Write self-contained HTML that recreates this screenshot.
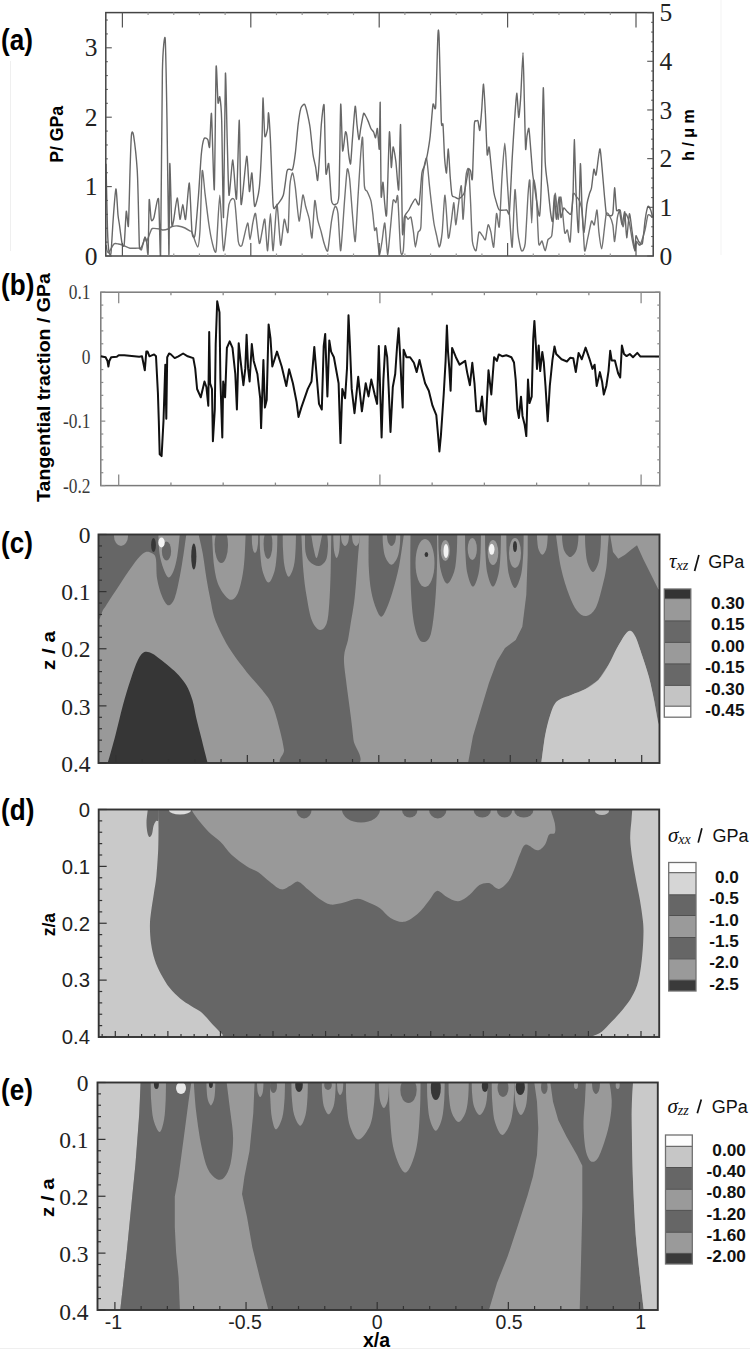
<!DOCTYPE html>
<html><head><meta charset="utf-8"><style>
html,body{margin:0;padding:0;background:#fff;}
body{width:750px;height:1349px;overflow:hidden;}
svg{display:block;}
</style></head><body>
<svg width="750" height="1349" viewBox="0 0 750 1349">
<clipPath id="clipc"><rect x="98.5" y="534.5" width="561.0" height="228.5"/></clipPath>
<g clip-path="url(#clipc)">
<rect x="98.5" y="534.5" width="561.0" height="228.5" fill="#999999" stroke="none" stroke-width="0"/>
<path d="M97.0,532.0 C97.0,545.9 95.9,602.6 97.0,615.4 C98.1,628.2 101.4,611.7 103.6,609.0 C105.8,606.3 107.4,603.2 110.2,599.0 C113.0,594.8 116.9,588.8 120.3,583.7 C123.7,578.6 127.3,572.9 130.5,568.5 C133.7,564.1 136.8,559.9 139.3,557.1 C141.8,554.4 143.6,552.6 145.7,552.0 C147.8,551.4 150.3,552.2 152.0,553.3 C153.7,554.4 155.0,554.2 155.8,558.4 C156.7,562.6 156.1,572.4 157.1,578.7 C158.1,585.0 160.2,592.0 162.1,596.4 C164.0,600.8 166.4,605.1 168.5,605.3 C170.6,605.5 172.9,602.6 174.8,597.7 C176.7,592.8 178.4,583.5 179.9,576.1 C181.4,568.7 182.6,560.0 183.7,553.3 C184.8,546.5 185.6,539.1 186.2,535.6 C186.8,532.1 186.9,532.6 187.0,532.0 Z" fill="#666666" stroke="none" stroke-width="0"/>
<path d="M158.3,533.0 C158.5,536.4 158.7,547.4 159.5,553.3 C160.3,559.2 161.9,564.5 163.4,568.5 C164.9,572.5 166.8,577.0 168.5,577.4 C170.2,577.8 172.0,574.6 173.5,571.0 C175.0,567.4 176.2,562.2 177.3,555.9 C178.4,549.6 179.5,536.8 179.9,533.0 Z" fill="#999999" stroke="none" stroke-width="0"/>
<ellipse cx="166.5" cy="551" rx="4.6" ry="9.5" fill="#666666"/>
<ellipse cx="161.5" cy="542.5" rx="3.2" ry="5" fill="#f4f4f4"/>
<ellipse cx="121" cy="536" rx="7" ry="10" fill="#999999"/>
<ellipse cx="153.5" cy="545" rx="2.4" ry="7" fill="#363636"/>
<ellipse cx="193.8" cy="556.5" rx="2.6" ry="13" fill="#363636"/>
<path d="M106.0,766.0 C106.3,765.5 106.2,768.0 107.7,763.0 C109.2,758.0 112.8,745.4 115.3,735.8 C117.8,726.2 120.4,714.6 122.9,705.3 C125.4,696.0 128.0,687.6 130.5,680.0 C133.0,672.4 135.7,664.4 138.0,659.7 C140.3,655.1 142.1,653.2 144.4,652.1 C146.7,651.0 149.2,652.1 152.0,653.4 C154.8,654.7 156.9,656.5 160.9,659.7 C164.9,662.9 171.8,668.2 176.0,672.4 C180.2,676.6 183.4,680.4 186.2,685.0 C188.9,689.6 190.8,694.8 192.5,700.3 C194.2,705.8 194.8,711.7 196.3,718.0 C197.8,724.3 199.5,730.8 201.4,738.3 C203.3,745.8 206.4,758.4 207.7,763.0 C209.0,767.6 208.8,765.5 209.0,766.0 Z" fill="#363636" stroke="none" stroke-width="0"/>
<path d="M198.9,532.0 C198.9,532.6 198.3,532.1 198.9,535.6 C199.5,539.1 201.4,546.1 202.7,553.3 C204.0,560.5 205.2,571.1 206.5,578.7 C207.8,586.3 209.0,592.7 210.3,599.0 C211.6,605.3 212.2,610.8 214.1,616.7 C216.0,622.6 218.8,628.5 221.7,634.4 C224.6,640.3 227.6,645.8 231.8,652.1 C236.0,658.4 241.9,666.1 247.0,672.4 C252.1,678.7 258.0,684.6 262.2,690.1 C266.4,695.6 269.3,698.5 272.3,705.3 C275.3,712.1 278.1,723.2 280.0,730.7 C281.9,738.2 283.2,744.3 284.0,750.0 C284.8,755.7 273.0,762.5 285.0,765.0 C297.0,767.5 344.6,769.2 356.0,765.0 C367.4,760.8 354.3,747.8 353.5,740.0 C352.7,732.2 352.2,728.0 351.0,718.0 C349.8,708.0 347.2,690.2 346.0,680.0 C344.8,669.8 343.7,663.7 344.0,657.0 C344.3,650.3 346.9,645.6 348.0,640.0 C349.1,634.4 349.7,629.4 350.7,623.3 C351.7,617.2 353.1,610.0 354.0,603.3 C354.9,596.6 355.3,591.1 356.0,583.3 C356.7,575.5 357.3,564.6 358.0,556.7 C358.7,548.8 359.5,540.1 360.0,536.0 C360.5,531.9 360.8,532.7 361.0,532.0 Z" fill="#666666" stroke="none" stroke-width="0"/>
<path d="M212.0,533.0 C212.3,538.5 212.9,557.1 214.1,566.0 C215.3,574.9 216.6,580.7 219.1,586.3 C221.6,591.9 226.3,597.9 229.3,599.4 C232.3,600.9 234.8,598.5 236.9,595.1 C239.0,591.7 240.6,584.8 241.9,578.7 C243.2,572.6 243.9,566.0 244.5,558.4 C245.1,550.8 245.5,537.2 245.7,533.0 Z" fill="#999999" stroke="none" stroke-width="0"/>
<ellipse cx="221.3" cy="545" rx="6.7" ry="18" fill="#666666"/>
<ellipse cx="255" cy="538" rx="3.2" ry="15" fill="#999999"/>
<path d="M259.7,533.0 C259.8,536.0 259.7,544.7 260.1,551.0 C260.6,557.2 261.0,565.1 262.4,570.4 C263.8,575.6 266.5,582.5 268.5,582.5 C270.6,582.5 273.3,575.6 274.7,570.4 C276.1,565.1 276.5,557.2 277.0,551.0 C277.4,544.7 277.3,536.0 277.4,533.0 Z" fill="#999999" stroke="none" stroke-width="0"/>
<ellipse cx="268" cy="544" rx="4.4" ry="15" fill="#666666"/>
<path d="M282.7,533.0 C282.8,535.7 282.7,543.4 283.0,548.9 C283.3,554.4 283.6,561.4 284.5,566.0 C285.4,570.7 287.1,576.7 288.7,576.7 C290.3,576.7 292.7,570.7 293.8,566.0 C295.0,561.4 295.3,554.4 295.6,548.9 C296.0,543.4 295.9,535.7 296.0,533.0 Z" fill="#999999" stroke="none" stroke-width="0"/>
<path d="M301.3,533.0 C301.6,539.2 302.4,559.4 303.3,570.0 C304.2,580.6 305.2,588.2 306.7,596.7 C308.1,605.2 309.8,615.2 312.0,620.7 C314.2,626.2 317.6,629.6 320.0,630.0 C322.4,630.4 325.1,627.8 326.7,623.3 C328.2,618.8 328.6,612.2 329.3,603.3 C330.0,594.4 330.4,581.7 330.7,570.0 C331.0,558.3 331.2,539.2 331.3,533.0 Z" fill="#999999" stroke="none" stroke-width="0"/>
<path d="M305.0,533.0 C305.1,536.2 304.7,547.2 305.5,552.0 C306.3,556.8 307.8,559.7 310.0,562.0 C312.2,564.3 316.3,566.3 319.0,566.0 C321.7,565.7 324.5,563.3 326.0,560.0 C327.5,556.7 327.8,550.5 328.0,546.0 C328.2,541.5 327.2,535.2 327.0,533.0 Z" fill="#666666" stroke="none" stroke-width="0"/>
<path d="M311.0,533.0 C311.4,535.5 312.6,543.8 313.5,548.0 C314.4,552.2 315.5,558.0 316.5,558.0 C317.5,558.0 318.5,552.2 319.5,548.0 C320.5,543.8 322.0,535.5 322.5,533.0 Z" fill="#999999" stroke="none" stroke-width="0"/>
<path d="M333.3,533.0 C333.3,534.6 333.3,539.2 333.5,542.4 C333.6,545.6 333.8,549.4 334.3,552.0 C334.8,554.6 335.9,558.0 336.6,558.0 C337.4,558.0 338.5,554.6 339.0,552.0 C339.5,549.4 339.7,545.6 339.8,542.4 C340.0,539.2 340.0,534.6 340.0,533.0 Z" fill="#999999" stroke="none" stroke-width="0"/>
<path d="M341.0,533.0 C341.0,533.9 341.0,536.5 341.2,538.2 C341.4,539.9 341.6,541.7 342.2,543.0 C342.8,544.3 344.1,546.0 345.0,546.0 C345.9,546.0 347.2,544.3 347.8,543.0 C348.4,541.7 348.6,539.9 348.8,538.2 C349.0,536.5 349.0,533.9 349.0,533.0 Z" fill="#999999" stroke="none" stroke-width="0"/>
<path d="M352.0,533.0 C352.0,533.9 352.0,536.5 352.2,538.2 C352.4,539.9 352.6,541.7 353.2,543.0 C353.8,544.3 355.1,546.0 356.0,546.0 C356.9,546.0 358.2,544.3 358.8,543.0 C359.4,541.7 359.6,539.9 359.8,538.2 C360.0,536.5 360.0,533.9 360.0,533.0 Z" fill="#999999" stroke="none" stroke-width="0"/>
<path d="M368.7,533.0 C368.7,538.5 368.3,556.3 368.7,566.0 C369.1,575.7 369.9,584.1 371.2,591.3 C372.5,598.5 374.6,604.8 376.3,609.0 C378.0,613.2 379.6,616.7 381.3,616.7 C383.0,616.7 384.5,613.2 386.4,609.0 C388.3,604.8 390.6,598.5 392.7,591.3 C394.8,584.1 397.2,575.7 399.1,566.0 C401.0,556.3 403.3,538.5 404.1,533.0 Z" fill="#666666" stroke="none" stroke-width="0"/>
<path d="M382.6,533.0 C382.7,535.0 382.6,540.7 383.0,544.7 C383.5,548.7 383.9,553.7 385.3,557.0 C386.7,560.4 389.4,564.7 391.5,564.7 C393.5,564.7 396.2,560.4 397.6,557.0 C399.0,553.7 399.4,548.7 399.9,544.7 C400.3,540.7 400.2,535.0 400.3,533.0 Z" fill="#999999" stroke="none" stroke-width="0"/>
<path d="M387.0,533.0 C387.0,533.9 387.0,536.5 387.2,538.2 C387.5,539.9 387.6,541.7 388.4,543.0 C389.1,544.3 390.4,546.0 391.5,546.0 C392.6,546.0 393.9,544.3 394.6,543.0 C395.4,541.7 395.5,539.9 395.8,538.2 C396.0,536.5 396.0,533.9 396.0,533.0 Z" fill="#666666" stroke="none" stroke-width="0"/>
<path d="M410.5,533.0 C410.5,540.6 410.1,564.8 410.5,578.7 C410.9,592.7 411.8,607.0 413.0,616.7 C414.2,626.4 416.2,632.8 418.0,637.0 C419.8,641.2 421.8,642.4 423.9,642.0 C426.0,641.6 428.8,640.7 430.7,634.4 C432.6,628.1 433.9,615.4 435.0,604.0 C436.1,592.6 436.7,577.8 437.0,566.0 C437.3,554.2 437.0,538.5 437.0,533.0 Z" fill="#666666" stroke="none" stroke-width="0"/>
<ellipse cx="425" cy="563" rx="9.5" ry="24" fill="#999999"/>
<ellipse cx="426.4" cy="554.6" rx="1.8" ry="2.5" fill="#363636"/>
<path d="M438.3,533.0 C438.4,536.1 438.3,545.0 438.7,551.4 C439.2,557.8 439.6,565.9 441.0,571.3 C442.4,576.7 445.0,583.7 447.2,583.7 C449.4,583.7 452.7,576.7 454.3,571.3 C455.9,565.9 456.3,557.8 456.8,551.4 C457.3,545.0 457.2,536.1 457.3,533.0 Z" fill="#666666" stroke="none" stroke-width="0"/>
<ellipse cx="445.3" cy="550.5" rx="4.5" ry="10.5" fill="#999999"/>
<ellipse cx="446" cy="551" rx="2.5" ry="7" fill="#f4f4f4"/>
<path d="M465.0,533.0 C465.1,536.2 465.0,545.7 465.4,552.4 C465.8,559.2 466.1,567.8 467.4,573.5 C468.7,579.2 471.1,586.7 473.0,586.7 C474.9,586.7 477.3,579.2 478.6,573.5 C479.9,567.8 480.2,559.2 480.6,552.4 C481.0,545.7 480.9,536.2 481.0,533.0 Z" fill="#666666" stroke="none" stroke-width="0"/>
<ellipse cx="472.3" cy="549" rx="4.6" ry="11" fill="#999999"/>
<path d="M485.0,533.0 C485.1,536.2 485.0,545.7 485.4,552.4 C485.8,559.2 486.1,567.8 487.4,573.5 C488.7,579.2 491.1,586.7 493.0,586.7 C494.9,586.7 497.3,579.2 498.6,573.5 C499.9,567.8 500.2,559.2 500.6,552.4 C501.0,545.7 500.9,536.2 501.0,533.0 Z" fill="#666666" stroke="none" stroke-width="0"/>
<ellipse cx="493" cy="552.5" rx="5.3" ry="12.5" fill="#999999"/>
<ellipse cx="491.7" cy="549.3" rx="2.8" ry="5.5" fill="#f4f4f4"/>
<path d="M506.3,533.0 C506.4,536.3 506.3,546.0 506.7,552.9 C507.2,559.8 507.5,568.6 508.9,574.5 C510.3,580.4 513.0,588.0 515.0,588.0 C517.0,588.0 519.7,580.4 521.1,574.5 C522.5,568.6 522.8,559.8 523.3,552.9 C523.7,546.0 523.6,536.3 523.7,533.0 Z" fill="#666666" stroke="none" stroke-width="0"/>
<ellipse cx="515" cy="553" rx="6" ry="15" fill="#999999"/>
<ellipse cx="515" cy="546.5" rx="2" ry="5.5" fill="#363636"/>
<path d="M527.7,532.0 L527.7,554.7 L526.3,594.7 L522.3,626.7 L515.7,640.0 L505.0,648.0 L497.0,661.3 L489.0,682.7 L481.0,709.3 L473.0,736.0 L467.7,765.0 L541.0,765.0 L545.0,736.0 L550.3,714.7 L557.0,701.3 L571.7,694.7 L585.0,689.3 L598.3,680.0 L609.0,664.0 L617.0,648.0 L625.0,634.7 L630.3,630.7 L635.7,637.3 L642.3,656.0 L649.0,677.3 L654.3,701.3 L658.3,722.7 L662.0,730.0 L662.0,589.0 L658.3,589.3 L651.7,576.0 L643.7,560.0 L637.0,545.3 L631.7,549.3 L625.0,554.7 L618.3,558.7 L613.0,552.0 L610.3,536.0 L610.0,532.0 Z" fill="#666666" stroke="none" stroke-width="0"/>
<path d="M541.0,765.0 C541.7,760.2 543.5,744.4 545.0,736.0 C546.5,727.6 548.3,720.5 550.3,714.7 C552.3,708.9 553.4,704.6 557.0,701.3 C560.6,698.0 567.0,696.7 571.7,694.7 C576.4,692.7 580.6,691.8 585.0,689.3 C589.4,686.8 594.3,684.2 598.3,680.0 C602.3,675.8 605.9,669.3 609.0,664.0 C612.1,658.7 614.3,652.9 617.0,648.0 C619.7,643.1 622.8,637.6 625.0,634.7 C627.2,631.8 628.5,630.3 630.3,630.7 C632.1,631.1 633.7,633.1 635.7,637.3 C637.7,641.5 640.1,649.3 642.3,656.0 C644.5,662.7 647.0,669.8 649.0,677.3 C651.0,684.8 652.8,693.7 654.3,701.3 C655.8,708.9 657.0,717.9 658.3,722.7 C659.6,727.5 661.4,723.0 662.0,730.0 C662.6,737.0 662.0,759.2 662.0,765.0 Z" fill="#c9c9c9" stroke="none" stroke-width="0"/>
<path d="M555.7,533.0 C556.6,538.8 558.8,557.7 561.0,568.0 C563.2,578.3 566.3,587.6 569.0,594.7 C571.7,601.8 574.1,607.2 577.0,610.7 C579.9,614.2 583.2,616.5 586.3,616.0 C589.4,615.5 593.0,612.9 595.7,608.0 C598.4,603.1 600.5,593.4 602.3,586.7 C604.1,580.0 605.4,574.2 606.3,568.0 C607.2,561.8 607.2,555.1 607.7,549.3 C608.2,543.5 608.8,535.7 609.0,533.0 Z" fill="#999999" stroke="none" stroke-width="0"/>
<path d="M585.0,533.0 C585.1,535.4 585.0,542.4 585.4,547.3 C585.8,552.2 586.1,558.4 587.4,562.5 C588.7,566.6 591.1,572.0 593.0,572.0 C594.9,572.0 597.3,566.6 598.6,562.5 C599.9,558.4 600.2,552.2 600.6,547.3 C601.0,542.4 600.9,535.4 601.0,533.0 Z" fill="#666666" stroke="none" stroke-width="0"/>
<path d="M562.0,533.0 C562.1,534.5 562.0,539.0 562.4,542.0 C562.8,545.1 563.2,548.8 564.5,551.2 C565.8,553.7 568.3,557.0 570.2,557.0 C572.2,557.0 574.7,553.7 576.0,551.2 C577.3,548.8 577.7,545.1 578.1,542.0 C578.5,539.0 578.4,534.5 578.5,533.0 Z" fill="#666666" stroke="none" stroke-width="0"/>
<path d="M537.0,533.0 C537.0,534.4 537.0,538.5 537.3,541.2 C537.5,544.0 537.8,547.3 538.6,549.5 C539.5,551.8 541.1,554.7 542.4,554.7 C543.6,554.7 545.2,551.8 546.1,549.5 C546.9,547.3 547.2,544.0 547.4,541.2 C547.7,538.5 547.7,534.4 547.7,533.0 Z" fill="#999999" stroke="none" stroke-width="0"/>
</g>
<rect x="98.5" y="534.5" width="561.0" height="228.5" fill="none" stroke="#333" stroke-width="1.9"/>
<clipPath id="clipd"><rect x="98.7" y="809.5" width="560.5" height="227.5"/></clipPath>
<g clip-path="url(#clipd)">
<rect x="98.7" y="809.5" width="560.5" height="227.5" fill="#c9c9c9" stroke="none" stroke-width="0"/>
<path d="M158.2,805.0 C158.2,806.7 158.2,811.2 158.3,815.0 C158.4,818.8 158.5,822.3 158.5,828.0 C158.5,833.7 158.5,841.4 158.2,849.4 C157.8,857.4 157.1,868.7 156.4,876.1 C155.7,883.5 154.7,888.0 153.8,893.9 C152.9,899.8 151.8,906.4 151.1,911.7 C150.4,917.0 149.9,920.6 149.9,925.9 C149.9,931.2 150.3,938.1 151.1,943.7 C151.9,949.3 153.1,954.7 154.7,959.7 C156.3,964.7 158.4,969.2 160.9,973.9 C163.4,978.6 166.6,984.0 169.8,988.1 C173.1,992.2 176.9,995.8 180.4,998.8 C183.9,1001.8 187.8,1003.8 191.1,1005.9 C194.4,1008.0 197.3,1009.2 200.0,1011.2 C202.7,1013.2 204.7,1015.5 207.0,1018.0 C209.3,1020.5 211.4,1023.3 214.1,1026.1 C216.8,1028.9 220.7,1032.7 223.0,1035.0 C225.3,1037.3 167.2,1039.2 228.0,1040.0 C288.8,1040.8 527.4,1040.5 588.0,1040.0 C648.6,1039.5 589.2,1038.2 591.5,1036.8 C593.8,1035.4 598.3,1034.2 601.7,1031.7 C605.1,1029.2 608.2,1025.4 611.8,1021.6 C615.4,1017.8 619.8,1013.2 623.2,1009.0 C626.6,1004.8 629.6,1001.0 632.1,996.3 C634.6,991.6 636.7,987.8 638.4,981.0 C640.1,974.2 641.4,964.1 642.2,955.7 C643.1,947.3 643.5,937.1 643.5,930.4 C643.5,923.6 642.8,920.3 642.2,915.2 C641.6,910.1 640.9,905.9 639.9,900.0 C638.9,894.1 637.2,886.7 636.0,880.0 C634.8,873.3 633.5,866.9 632.5,860.0 C631.5,853.1 630.4,845.4 630.2,838.7 C630.0,832.0 631.2,824.6 631.5,820.0 C631.8,815.4 632.0,813.3 632.2,810.8 C632.4,808.3 632.5,806.0 632.5,805.0 Z" fill="#666666" stroke="none" stroke-width="0"/>
<path d="M148.0,808.0 C147.8,810.3 146.6,817.8 146.5,822.0 C146.4,826.2 147.0,830.5 147.5,833.0 C148.0,835.5 148.8,836.8 149.5,837.0 C150.2,837.2 151.3,835.8 152.0,834.0 C152.7,832.2 152.8,828.2 153.5,826.0 C154.2,823.8 155.2,822.0 156.0,821.0 C156.8,820.0 158.1,822.2 158.5,820.0 C158.9,817.8 158.5,810.0 158.5,808.0 Z" fill="#666666" stroke="none" stroke-width="0"/>
<ellipse cx="180" cy="810.5" rx="11" ry="4" fill="#dcdcdc"/>
<path d="M191.9,808.0 C191.9,808.4 191.0,808.8 191.9,810.6 C192.8,812.4 194.8,815.4 197.6,819.0 C200.4,822.6 205.2,828.5 209.0,832.3 C212.8,836.1 216.6,838.0 220.4,841.8 C224.2,845.6 227.4,850.9 231.8,855.0 C236.2,859.1 242.6,863.6 247.0,866.5 C251.4,869.4 254.6,869.7 258.4,872.2 C262.2,874.7 266.0,878.9 269.8,881.7 C273.6,884.6 277.7,888.7 281.2,889.3 C284.7,889.9 287.8,886.8 290.7,885.5 C293.6,884.2 295.4,881.1 298.3,881.7 C301.2,882.3 304.3,886.4 307.8,889.3 C311.3,892.1 315.4,896.3 319.2,898.8 C323.0,901.3 326.5,903.9 330.6,904.5 C334.7,905.1 339.5,903.6 343.9,902.6 C348.3,901.6 353.1,898.8 357.2,898.8 C361.3,898.8 364.8,901.0 368.6,902.6 C372.4,904.2 376.4,905.8 380.0,908.3 C383.6,910.8 386.5,915.6 390.5,917.9 C394.5,920.1 399.5,922.4 404.0,921.8 C408.5,921.1 413.3,917.5 417.5,914.0 C421.7,910.5 425.9,904.4 429.1,900.5 C432.3,896.6 434.0,891.5 436.9,890.9 C439.8,890.3 443.0,895.0 446.5,896.7 C450.0,898.4 454.2,901.6 458.1,901.3 C462.0,901.0 466.1,897.4 469.7,894.7 C473.2,892.0 476.2,887.0 479.4,885.1 C482.6,883.2 485.9,882.5 489.1,883.1 C492.3,883.7 495.5,889.2 498.7,888.9 C501.9,888.6 505.8,884.4 508.4,881.2 C511.0,878.0 512.3,874.1 514.2,869.6 C516.1,865.1 518.1,858.3 520.0,854.1 C521.9,849.9 522.9,845.1 525.8,844.5 C528.7,843.9 534.2,850.3 537.4,850.3 C540.6,850.3 543.2,847.1 545.1,844.5 C547.0,841.9 547.4,836.7 549.0,834.8 C550.6,832.9 553.8,834.8 554.8,832.9 C555.8,831.0 555.4,826.9 554.8,823.2 C554.2,819.5 551.6,813.3 551.0,810.8 C550.4,808.3 551.0,808.5 551.0,808.0 Z" fill="#999999" stroke="none" stroke-width="0"/>
<ellipse cx="304.0" cy="809.5" rx="7.600000000000023" ry="9" fill="#666666"/>
<ellipse cx="361.0" cy="809.5" rx="19.0" ry="13" fill="#666666"/>
<ellipse cx="409.75" cy="809.5" rx="7.75" ry="8" fill="#666666"/>
<ellipse cx="437.75" cy="809.5" rx="8.75" ry="9" fill="#666666"/>
<ellipse cx="482.3" cy="809.5" rx="8.699999999999989" ry="8" fill="#666666"/>
<ellipse cx="504.54999999999995" cy="809.5" rx="7.749999999999972" ry="8" fill="#666666"/>
<ellipse cx="523.75" cy="809.5" rx="9.75" ry="8" fill="#666666"/>
<ellipse cx="602" cy="811" rx="7" ry="4" fill="#b8b8b8"/>
</g>
<rect x="98.7" y="809.5" width="560.5" height="227.5" fill="none" stroke="#333" stroke-width="1.9"/>
<clipPath id="clipe"><rect x="97.5" y="1082.5" width="560.3" height="227.5"/></clipPath>
<g clip-path="url(#clipe)">
<rect x="97.5" y="1082.5" width="560.3" height="227.5" fill="#999999" stroke="none" stroke-width="0"/>
<path d="M96.0,1080.0 C103.4,1080.0 133.2,1079.6 140.6,1080.0 C148.0,1080.4 140.8,1077.1 140.6,1082.6 C140.4,1088.1 140.2,1099.5 139.3,1113.0 C138.5,1126.5 136.8,1148.9 135.5,1163.7 C134.2,1178.5 133.2,1186.9 131.7,1201.7 C130.2,1216.5 128.6,1234.3 126.7,1252.3 C124.8,1270.2 121.5,1299.3 120.3,1309.4 C119.1,1319.5 123.8,1312.4 119.8,1313.0 C115.8,1313.6 100.0,1313.0 96.0,1313.0 Z" fill="#c9c9c9" stroke="none" stroke-width="0"/>
<path d="M140.6,1080.0 L140.6,1082.6 L139.3,1113.0 L135.5,1163.7 L131.7,1201.7 L126.7,1252.3 L120.3,1309.4 L119.8,1313.0 L180.0,1313.0 L179.9,1309.4 L178.6,1277.7 L176.1,1252.3 L174.8,1227.0 L174.8,1196.6 L178.6,1176.3 L183.7,1138.3 L188.7,1100.3 L191.3,1082.6 L191.5,1080.0 Z" fill="#666666" stroke="none" stroke-width="0"/>
<path d="M150.7,1081.0 C150.8,1084.1 150.7,1093.1 151.1,1099.5 C151.6,1105.9 152.0,1114.1 153.4,1119.5 C154.8,1124.9 157.8,1132.0 159.6,1132.0 C161.4,1132.0 163.1,1124.9 164.1,1119.5 C165.1,1114.1 165.4,1105.9 165.7,1099.5 C166.0,1093.1 165.9,1084.1 166.0,1081.0 Z" fill="#999999" stroke="none" stroke-width="0"/>
<ellipse cx="156.4" cy="1084" rx="2.5" ry="5" fill="#363636"/>
<ellipse cx="181" cy="1088" rx="5" ry="6" fill="#e8e8e8"/>
<path d="M193.8,1080.0 C193.8,1080.4 193.4,1077.1 193.8,1082.6 C194.2,1088.1 195.0,1102.4 196.3,1113.0 C197.6,1123.6 199.5,1136.7 201.4,1146.0 C203.3,1155.3 205.2,1163.2 207.7,1168.7 C210.2,1174.2 213.8,1177.4 216.6,1178.9 C219.3,1180.4 221.9,1180.1 224.2,1177.6 C226.5,1175.1 229.0,1170.2 230.5,1163.7 C232.0,1157.2 233.1,1146.8 233.1,1138.3 C233.1,1129.8 231.6,1122.3 230.5,1113.0 C229.4,1103.7 227.3,1088.1 226.7,1082.6 C226.1,1077.1 226.7,1080.4 226.7,1080.0 Z" fill="#666666" stroke="none" stroke-width="0"/>
<path d="M206.5,1081.0 C206.5,1082.5 206.5,1087.1 206.7,1090.2 C206.9,1093.3 207.1,1097.0 207.8,1099.6 C208.5,1102.1 209.9,1105.4 210.9,1105.4 C211.9,1105.4 213.3,1102.1 214.0,1099.6 C214.7,1097.0 214.9,1093.3 215.1,1090.2 C215.3,1087.1 215.3,1082.5 215.3,1081.0 Z" fill="#999999" stroke="none" stroke-width="0"/>
<ellipse cx="210.9" cy="1084" rx="2" ry="4" fill="#363636"/>
<path d="M254.6,1080.0 L254.6,1082.6 L253.3,1113.0 L249.5,1151.0 L244.5,1176.3 L242.0,1194.0 L247.0,1216.9 L252.3,1247.3 L259.8,1277.7 L268.3,1309.4 L269.0,1313.0 L489.0,1313.0 L489.0,1309.7 L497.0,1283.0 L507.7,1256.3 L518.3,1224.3 L527.7,1195.0 L533.0,1176.3 L537.0,1155.0 L538.3,1128.3 L537.0,1101.7 L534.3,1082.5 L534.3,1080.0 Z" fill="#666666" stroke="none" stroke-width="0"/>
<path d="M257.0,1081.0 C257.0,1082.0 257.0,1085.2 257.2,1087.2 C257.3,1089.3 257.5,1091.6 258.0,1093.2 C258.5,1094.9 259.5,1097.0 260.2,1097.0 C261.0,1097.0 262.0,1094.9 262.5,1093.2 C263.0,1091.6 263.2,1089.3 263.3,1087.2 C263.5,1085.2 263.5,1082.0 263.5,1081.0 Z" fill="#999999" stroke="none" stroke-width="0"/>
<path d="M270.0,1081.0 C270.1,1083.9 270.0,1092.5 270.3,1098.6 C270.6,1104.7 270.9,1112.5 271.8,1117.6 C272.8,1122.8 274.2,1129.5 276.0,1129.5 C277.8,1129.5 280.9,1122.8 282.3,1117.6 C283.7,1112.5 284.1,1104.7 284.6,1098.6 C285.0,1092.5 284.9,1083.9 285.0,1081.0 Z" fill="#999999" stroke="none" stroke-width="0"/>
<path d="M291.4,1081.0 C291.5,1083.7 291.4,1091.7 291.8,1097.3 C292.3,1102.9 292.7,1110.0 294.1,1114.8 C295.5,1119.5 298.4,1125.7 300.3,1125.7 C302.2,1125.7 304.4,1119.5 305.6,1114.8 C306.8,1110.0 307.1,1102.9 307.5,1097.3 C307.9,1091.7 307.8,1083.7 307.9,1081.0 Z" fill="#999999" stroke="none" stroke-width="0"/>
<path d="M321.8,1081.0 C321.9,1083.1 321.8,1089.1 322.1,1093.3 C322.5,1097.5 322.8,1102.7 323.8,1106.2 C324.9,1109.7 327.0,1114.3 328.6,1114.3 C330.2,1114.3 332.4,1109.7 333.6,1106.2 C334.7,1102.7 335.0,1097.5 335.3,1093.3 C335.7,1089.1 335.6,1083.1 335.7,1081.0 Z" fill="#999999" stroke="none" stroke-width="0"/>
<path d="M337.0,1081.0 C337.0,1081.9 337.0,1084.8 337.2,1086.5 C337.3,1088.3 337.4,1090.3 337.9,1091.8 C338.4,1093.2 339.4,1095.0 340.1,1095.0 C340.9,1095.0 341.9,1093.2 342.4,1091.8 C342.9,1090.3 343.0,1088.3 343.1,1086.5 C343.3,1084.8 343.3,1081.9 343.3,1081.0 Z" fill="#999999" stroke="none" stroke-width="0"/>
<path d="M345.9,1081.0 C346.0,1084.5 345.9,1094.8 346.5,1102.2 C347.2,1109.5 347.7,1119.0 349.7,1125.2 C351.7,1131.4 355.1,1139.6 358.5,1139.6 C361.9,1139.6 367.4,1131.4 370.1,1125.2 C372.7,1119.0 373.4,1109.5 374.2,1102.2 C375.0,1094.8 374.9,1084.5 375.0,1081.0 Z" fill="#999999" stroke="none" stroke-width="0"/>
<path d="M378.8,1081.0 C378.8,1082.7 378.8,1087.7 379.1,1091.1 C379.3,1094.5 379.5,1098.7 380.3,1101.5 C381.1,1104.3 382.7,1108.0 383.9,1108.0 C385.1,1108.0 386.7,1104.3 387.5,1101.5 C388.3,1098.7 388.5,1094.5 388.7,1091.1 C389.0,1087.7 389.0,1082.7 389.0,1081.0 Z" fill="#999999" stroke="none" stroke-width="0"/>
<path d="M389.0,1081.0 C389.1,1086.4 389.0,1102.2 389.8,1113.7 C390.6,1125.2 391.3,1140.1 393.9,1149.9 C396.5,1159.7 401.7,1172.5 405.4,1172.5 C409.1,1172.5 413.6,1159.7 416.0,1149.9 C418.4,1140.1 419.1,1125.2 419.8,1113.7 C420.6,1102.2 420.5,1086.4 420.6,1081.0 Z" fill="#999999" stroke="none" stroke-width="0"/>
<path d="M427.0,1081.0 C427.1,1084.0 427.0,1092.8 427.4,1099.0 C427.9,1105.3 428.2,1113.2 429.6,1118.5 C431.0,1123.8 433.7,1130.7 435.8,1130.7 C437.9,1130.7 440.6,1123.8 442.0,1118.5 C443.4,1113.2 443.8,1105.3 444.3,1099.0 C444.7,1092.8 444.6,1084.0 444.7,1081.0 Z" fill="#999999" stroke="none" stroke-width="0"/>
<path d="M448.5,1081.0 C448.6,1083.5 448.5,1090.8 449.0,1096.0 C449.5,1101.1 449.9,1107.6 451.5,1111.9 C453.1,1116.2 456.2,1121.9 458.6,1121.9 C461.0,1121.9 464.1,1116.2 465.7,1111.9 C467.4,1107.6 467.8,1101.1 468.3,1096.0 C468.8,1090.8 468.7,1083.5 468.8,1081.0 Z" fill="#999999" stroke="none" stroke-width="0"/>
<path d="M471.7,1081.0 C471.8,1083.1 471.7,1089.3 472.1,1093.5 C472.5,1097.8 472.8,1103.2 474.1,1106.8 C475.4,1110.3 477.8,1115.0 479.7,1115.0 C481.6,1115.0 484.0,1110.3 485.3,1106.8 C486.6,1103.2 486.9,1097.8 487.3,1093.5 C487.7,1089.3 487.6,1083.1 487.7,1081.0 Z" fill="#999999" stroke="none" stroke-width="0"/>
<path d="M491.7,1081.0 C491.8,1084.3 491.7,1093.8 492.2,1100.5 C492.8,1107.3 493.2,1116.0 494.9,1121.8 C496.6,1127.5 499.7,1135.0 502.3,1135.0 C504.9,1135.0 508.8,1127.5 510.7,1121.8 C512.6,1116.0 513.1,1107.3 513.7,1100.5 C514.3,1093.8 514.2,1084.3 514.3,1081.0 Z" fill="#999999" stroke="none" stroke-width="0"/>
<path d="M514.3,1081.0 C514.4,1083.1 514.3,1089.3 514.6,1093.5 C515.0,1097.8 515.2,1103.2 516.3,1106.8 C517.4,1110.3 519.4,1115.0 521.0,1115.0 C522.6,1115.0 524.6,1110.3 525.7,1106.8 C526.8,1103.2 527.0,1097.8 527.4,1093.5 C527.7,1089.3 527.6,1083.1 527.7,1081.0 Z" fill="#999999" stroke="none" stroke-width="0"/>
<ellipse cx="273.5" cy="1086" rx="3.5" ry="7" fill="#666666"/>
<ellipse cx="299" cy="1085" rx="3.8" ry="7" fill="#363636"/>
<ellipse cx="328" cy="1085" rx="3.8" ry="5" fill="#666666"/>
<ellipse cx="408.5" cy="1090" rx="8.2" ry="13" fill="#666666"/>
<ellipse cx="435.8" cy="1088" rx="5" ry="12" fill="#363636"/>
<ellipse cx="485" cy="1086" rx="3.2" ry="6" fill="#363636"/>
<ellipse cx="503" cy="1088" rx="5.5" ry="9" fill="#666666"/>
<ellipse cx="520.3" cy="1087" rx="4.6" ry="8" fill="#363636"/>
<path d="M550.3,1080.0 L550.3,1082.5 L553.0,1101.7 L558.3,1120.3 L566.3,1136.3 L577.0,1155.0 L582.3,1165.7 L582.3,1208.3 L581.0,1261.7 L579.7,1309.7 L579.7,1313.0 L644.0,1313.0 L643.7,1309.7 L639.7,1275.0 L635.7,1235.0 L633.0,1181.7 L631.7,1115.0 L633.0,1082.5 L633.0,1080.0 Z" fill="#666666" stroke="none" stroke-width="0"/>
<path d="M586.0,1080.0 C585.8,1083.3 585.4,1093.0 585.0,1100.0 C584.6,1107.0 583.6,1115.0 583.5,1122.0 C583.4,1129.0 583.9,1136.5 584.5,1142.0 C585.1,1147.5 585.8,1151.7 587.0,1155.0 C588.2,1158.3 589.9,1161.2 591.7,1161.7 C593.5,1162.2 595.8,1161.6 598.0,1158.0 C600.2,1154.4 603.0,1146.3 605.0,1140.0 C607.0,1133.7 608.9,1126.7 610.0,1120.0 C611.1,1113.3 611.9,1106.7 611.7,1100.0 C611.5,1093.3 609.5,1083.3 609.0,1080.0 Z" fill="#999999" stroke="none" stroke-width="0"/>
<path d="M592.0,1081.0 C592.0,1081.9 592.0,1084.5 592.2,1086.2 C592.4,1087.9 592.6,1089.7 593.2,1091.0 C593.8,1092.3 595.1,1094.0 596.0,1094.0 C596.9,1094.0 598.2,1092.3 598.8,1091.0 C599.4,1089.7 599.6,1087.9 599.8,1086.2 C600.0,1084.5 600.0,1081.9 600.0,1081.0 Z" fill="#666666" stroke="none" stroke-width="0"/>
<ellipse cx="576" cy="1085" rx="2" ry="4" fill="#999999"/>
<ellipse cx="617.7" cy="1085" rx="2" ry="4" fill="#999999"/>
<ellipse cx="544.3" cy="1087" rx="3.3" ry="7" fill="#666666"/>
<path d="M633.0,1080.0 C633.0,1080.4 633.2,1076.7 633.0,1082.5 C632.8,1088.3 631.7,1098.5 631.7,1115.0 C631.7,1131.5 632.3,1161.7 633.0,1181.7 C633.7,1201.7 634.6,1219.5 635.7,1235.0 C636.8,1250.5 638.4,1262.5 639.7,1275.0 C641.0,1287.5 643.0,1303.4 643.7,1309.7 C644.4,1316.0 641.3,1312.5 644.0,1313.0 C646.7,1313.5 657.3,1351.8 660.0,1313.0 C662.7,1274.2 660.0,1118.8 660.0,1080.0 Z" fill="#c9c9c9" stroke="none" stroke-width="0"/>
</g>
<rect x="97.5" y="1082.5" width="560.3" height="227.5" fill="none" stroke="#333" stroke-width="1.9"/>
<rect x="100.8" y="292.2" width="559.0" height="193.40000000000003" fill="none" stroke="#7a7a7a" stroke-width="1.5"/>
<line x1="118.69999999999999" y1="292.2" x2="118.69999999999999" y2="303.2" stroke="#8a8a8a" stroke-width="1.3"/>
<line x1="118.69999999999999" y1="485.6" x2="118.69999999999999" y2="474.6" stroke="#8a8a8a" stroke-width="1.3"/>
<line x1="170.93999999999997" y1="292.2" x2="170.93999999999997" y2="295.2" stroke="#8a8a8a" stroke-width="1.3"/>
<line x1="170.93999999999997" y1="485.6" x2="170.93999999999997" y2="482.6" stroke="#8a8a8a" stroke-width="1.3"/>
<line x1="223.17999999999995" y1="292.2" x2="223.17999999999995" y2="295.2" stroke="#8a8a8a" stroke-width="1.3"/>
<line x1="223.17999999999995" y1="485.6" x2="223.17999999999995" y2="482.6" stroke="#8a8a8a" stroke-width="1.3"/>
<line x1="275.41999999999996" y1="292.2" x2="275.41999999999996" y2="295.2" stroke="#8a8a8a" stroke-width="1.3"/>
<line x1="275.41999999999996" y1="485.6" x2="275.41999999999996" y2="482.6" stroke="#8a8a8a" stroke-width="1.3"/>
<line x1="327.65999999999997" y1="292.2" x2="327.65999999999997" y2="295.2" stroke="#8a8a8a" stroke-width="1.3"/>
<line x1="327.65999999999997" y1="485.6" x2="327.65999999999997" y2="482.6" stroke="#8a8a8a" stroke-width="1.3"/>
<line x1="379.9" y1="292.2" x2="379.9" y2="303.2" stroke="#8a8a8a" stroke-width="1.3"/>
<line x1="379.9" y1="485.6" x2="379.9" y2="474.6" stroke="#8a8a8a" stroke-width="1.3"/>
<line x1="432.14" y1="292.2" x2="432.14" y2="295.2" stroke="#8a8a8a" stroke-width="1.3"/>
<line x1="432.14" y1="485.6" x2="432.14" y2="482.6" stroke="#8a8a8a" stroke-width="1.3"/>
<line x1="484.38" y1="292.2" x2="484.38" y2="295.2" stroke="#8a8a8a" stroke-width="1.3"/>
<line x1="484.38" y1="485.6" x2="484.38" y2="482.6" stroke="#8a8a8a" stroke-width="1.3"/>
<line x1="536.62" y1="292.2" x2="536.62" y2="295.2" stroke="#8a8a8a" stroke-width="1.3"/>
<line x1="536.62" y1="485.6" x2="536.62" y2="482.6" stroke="#8a8a8a" stroke-width="1.3"/>
<line x1="588.86" y1="292.2" x2="588.86" y2="295.2" stroke="#8a8a8a" stroke-width="1.3"/>
<line x1="588.86" y1="485.6" x2="588.86" y2="482.6" stroke="#8a8a8a" stroke-width="1.3"/>
<line x1="641.0999999999999" y1="292.2" x2="641.0999999999999" y2="303.2" stroke="#8a8a8a" stroke-width="1.3"/>
<line x1="641.0999999999999" y1="485.6" x2="641.0999999999999" y2="474.6" stroke="#8a8a8a" stroke-width="1.3"/>
<line x1="100.8" y1="292.2" x2="105.3" y2="292.2" stroke="#8a8a8a" stroke-width="1.2"/>
<line x1="659.8" y1="292.2" x2="655.3" y2="292.2" stroke="#8a8a8a" stroke-width="1.2"/>
<line x1="100.8" y1="305.0933333333333" x2="103.3" y2="305.0933333333333" stroke="#8a8a8a" stroke-width="1.2"/>
<line x1="659.8" y1="305.0933333333333" x2="657.3" y2="305.0933333333333" stroke="#8a8a8a" stroke-width="1.2"/>
<line x1="100.8" y1="317.9866666666667" x2="103.3" y2="317.9866666666667" stroke="#8a8a8a" stroke-width="1.2"/>
<line x1="659.8" y1="317.9866666666667" x2="657.3" y2="317.9866666666667" stroke="#8a8a8a" stroke-width="1.2"/>
<line x1="100.8" y1="330.88" x2="103.3" y2="330.88" stroke="#8a8a8a" stroke-width="1.2"/>
<line x1="659.8" y1="330.88" x2="657.3" y2="330.88" stroke="#8a8a8a" stroke-width="1.2"/>
<line x1="100.8" y1="343.7733333333333" x2="103.3" y2="343.7733333333333" stroke="#8a8a8a" stroke-width="1.2"/>
<line x1="659.8" y1="343.7733333333333" x2="657.3" y2="343.7733333333333" stroke="#8a8a8a" stroke-width="1.2"/>
<line x1="100.8" y1="356.6666666666667" x2="105.3" y2="356.6666666666667" stroke="#8a8a8a" stroke-width="1.2"/>
<line x1="659.8" y1="356.6666666666667" x2="655.3" y2="356.6666666666667" stroke="#8a8a8a" stroke-width="1.2"/>
<line x1="100.8" y1="369.56" x2="103.3" y2="369.56" stroke="#8a8a8a" stroke-width="1.2"/>
<line x1="659.8" y1="369.56" x2="657.3" y2="369.56" stroke="#8a8a8a" stroke-width="1.2"/>
<line x1="100.8" y1="382.4533333333333" x2="103.3" y2="382.4533333333333" stroke="#8a8a8a" stroke-width="1.2"/>
<line x1="659.8" y1="382.4533333333333" x2="657.3" y2="382.4533333333333" stroke="#8a8a8a" stroke-width="1.2"/>
<line x1="100.8" y1="395.3466666666667" x2="103.3" y2="395.3466666666667" stroke="#8a8a8a" stroke-width="1.2"/>
<line x1="659.8" y1="395.3466666666667" x2="657.3" y2="395.3466666666667" stroke="#8a8a8a" stroke-width="1.2"/>
<line x1="100.8" y1="408.24" x2="103.3" y2="408.24" stroke="#8a8a8a" stroke-width="1.2"/>
<line x1="659.8" y1="408.24" x2="657.3" y2="408.24" stroke="#8a8a8a" stroke-width="1.2"/>
<line x1="100.8" y1="421.1333333333333" x2="105.3" y2="421.1333333333333" stroke="#8a8a8a" stroke-width="1.2"/>
<line x1="659.8" y1="421.1333333333333" x2="655.3" y2="421.1333333333333" stroke="#8a8a8a" stroke-width="1.2"/>
<line x1="100.8" y1="434.0266666666667" x2="103.3" y2="434.0266666666667" stroke="#8a8a8a" stroke-width="1.2"/>
<line x1="659.8" y1="434.0266666666667" x2="657.3" y2="434.0266666666667" stroke="#8a8a8a" stroke-width="1.2"/>
<line x1="100.8" y1="446.91999999999996" x2="103.3" y2="446.91999999999996" stroke="#8a8a8a" stroke-width="1.2"/>
<line x1="659.8" y1="446.91999999999996" x2="657.3" y2="446.91999999999996" stroke="#8a8a8a" stroke-width="1.2"/>
<line x1="100.8" y1="459.81333333333333" x2="103.3" y2="459.81333333333333" stroke="#8a8a8a" stroke-width="1.2"/>
<line x1="659.8" y1="459.81333333333333" x2="657.3" y2="459.81333333333333" stroke="#8a8a8a" stroke-width="1.2"/>
<line x1="100.8" y1="472.7066666666667" x2="103.3" y2="472.7066666666667" stroke="#8a8a8a" stroke-width="1.2"/>
<line x1="659.8" y1="472.7066666666667" x2="657.3" y2="472.7066666666667" stroke="#8a8a8a" stroke-width="1.2"/>
<line x1="100.8" y1="485.6" x2="105.3" y2="485.6" stroke="#8a8a8a" stroke-width="1.2"/>
<line x1="659.8" y1="485.6" x2="655.3" y2="485.6" stroke="#8a8a8a" stroke-width="1.2"/>
<polyline points="100.9,356.3 105.6,357.2 107.5,361.0 108.4,366.5 109.3,361.0 111.2,357.2 116.8,356.8 118.7,355.3 124.3,355.3 139.2,356.8 142.0,356.3 144.8,370.3 146.3,351.6 147.6,351.6 149.5,356.3 154.1,354.4 156.0,356.3 157.9,392.7 158.8,420.7 159.7,454.3 161.6,456.1 163.5,420.7 165.3,364.7 166.3,418.8 167.2,357.2 169.1,353.5 170.9,354.4 174.7,358.1 178.4,356.3 183.1,353.5 187.7,356.3 193.3,358.1 195.2,368.4 197.1,389.0 200.8,397.3 204.5,381.5 206.4,387.0 208.3,405.7 209.2,332.0 210.1,383.3 212.0,389.0 212.9,441.2 214.8,409.5 215.7,344.1 217.2,301.2 219.5,312.4 220.4,379.6 222.3,437.5 223.2,381.5 225.1,397.3 226.9,347.9 229.7,341.3 232.5,347.9 235.3,374.0 236.9,409.5 238.7,343.2 240.6,360.9 243.4,385.2 245.3,368.4 246.6,334.8 248.1,368.4 249.6,381.5 251.8,344.1 253.7,360.9 257.4,374.0 260.2,398.3 261.1,428.1 263.4,360.0 264.9,407.6 266.7,400.1 268.6,324.5 270.5,338.5 272.3,366.5 277.0,351.6 281.7,366.5 286.3,386.1 289.1,369.3 292.9,383.3 296.6,402.0 298.5,416.9 301.3,407.6 307.8,388.9 311.5,381.5 314.3,346.9 316.2,370.3 319.0,403.9 321.8,409.5 323.7,346.0 325.2,333.9 327.4,396.4 329.3,340.4 331.1,351.6 333.9,357.2 338.6,383.3 340.5,443.1 342.3,388.9 345.1,398.3 347.0,368.4 348.5,315.2 349.8,342.3 351.7,388.9 354.5,413.2 358.2,376.8 361.9,411.3 365.7,383.3 368.5,396.4 371.3,379.6 374.7,394.5 377.1,403.9 378.8,346.0 380.3,394.5 381.6,437.5 383.4,379.6 385.3,346.0 387.2,357.2 388.7,388.9 390.5,431.9 392.8,387.0 395.2,374.0 397.1,346.0 398.6,328.3 399.9,351.6 401.7,388.9 402.7,407.6 403.6,349.7 406.4,357.2 410.1,357.2 413.9,362.8 416.7,372.1 419.5,360.0 422.3,372.1 425.1,383.3 428.8,390.8 432.5,405.7 436.3,415.1 438.1,435.6 439.4,451.5 440.9,435.6 443.7,394.5 445.6,360.9 446.9,325.5 448.0,351.6 449.3,368.4 450.6,390.8 452.1,347.9 455.9,357.2 459.6,364.7 465.2,360.9 467.1,372.1 469.9,385.2 472.3,362.8 474.5,383.3 476.4,411.3 480.1,411.3 482.0,396.4 484.2,420.7 485.7,424.4 488.5,370.3 491.3,394.5 494.1,357.2 496.9,360.9 498.8,354.4 502.5,356.3 506.3,355.3 511.4,357.2 514.0,362.5 515.7,379.6 517.4,409.5 518.9,418.0 521.0,396.7 522.5,415.9 524.6,424.4 526.3,436.1 528.0,379.6 529.5,403.1 531.7,396.7 533.2,339.1 534.4,320.9 535.9,345.5 537.0,368.9 538.7,345.5 540.2,371.1 542.3,351.9 543.8,362.5 545.5,386.0 547.7,421.2 549.8,386.0 552.4,360.4 554.5,346.5 556.2,354.0 561.5,359.3 566.9,361.5 570.1,357.8 573.3,358.3 575.8,372.1 578.6,352.9 581.8,359.3 585.6,347.6 589.3,358.3 592.5,368.9 594.6,364.7 596.7,386.0 599.9,372.1 602.1,381.7 603.8,394.5 606.3,386.0 608.5,371.1 610.2,350.8 611.7,360.4 614.9,360.4 618.1,373.2 620.2,377.5 621.9,345.5 624.0,354.0 626.6,356.1 629.8,354.0 633.0,357.2 637.3,352.9 640.5,356.6 659.0,356.6" fill="none" stroke="#111" stroke-width="2.0" stroke-linejoin="round" />
<clipPath id="clipa"><rect x="105.8" y="12.6" width="547.4000000000001" height="243.4"/></clipPath>
<g clip-path="url(#clipa)">
<path d="M106.0,245.0 C106.2,245.9 107.3,253.0 108.2,252.9 C109.1,252.8 112.8,245.0 113.9,244.0 C115.0,243.0 117.4,243.8 118.5,244.0 C119.6,244.2 122.4,245.1 123.7,245.6 C125.0,246.1 128.3,247.9 130.0,248.2 C131.7,248.5 138.0,248.0 139.3,248.2 C140.6,248.4 140.9,250.4 141.4,249.8 C141.9,249.2 143.0,243.9 143.4,242.5 C143.8,241.1 144.6,237.4 145.0,237.3 C145.4,237.2 146.0,242.0 146.6,241.5 C147.2,241.0 149.4,234.4 150.0,233.0 C150.6,231.6 151.2,228.9 152.3,228.5 C153.4,228.1 158.8,228.8 160.0,229.0 C161.2,229.2 162.1,230.0 163.0,230.0 C163.9,230.0 167.0,229.4 168.0,229.0 C169.0,228.6 170.9,226.8 172.0,226.5 C173.1,226.2 176.6,225.8 178.0,226.0 C179.4,226.2 183.7,227.4 185.0,228.0 C186.3,228.6 189.2,230.5 190.0,231.0 C190.8,231.5 191.2,230.4 192.0,232.2 C192.8,234.0 196.7,247.2 197.6,247.0 C198.5,246.8 199.5,238.4 200.0,230.0 C200.5,221.6 201.6,175.2 202.2,171.1 C202.8,167.0 204.3,187.5 205.0,193.3 C205.7,199.1 207.9,217.4 208.7,223.0 C209.5,228.6 211.6,240.2 212.4,243.3 C213.2,246.4 215.3,256.0 216.1,250.7 C216.9,245.4 219.0,195.2 219.8,195.2 C220.6,195.2 222.5,249.7 223.5,250.7 C224.5,251.7 227.8,210.0 229.0,204.4 C230.2,198.8 233.6,196.6 234.6,200.7 C235.6,204.8 237.5,236.6 238.3,241.5 C239.1,246.4 241.0,247.3 242.0,245.2 C243.0,243.1 246.7,223.6 247.6,223.0 C248.5,222.4 249.4,239.6 250.0,239.6 C250.6,239.6 252.2,225.9 252.8,223.0 C253.4,220.1 254.9,211.4 255.6,213.7 C256.3,216.0 258.6,241.2 259.3,243.3 C260.0,245.4 261.4,234.9 262.0,232.2 C262.6,229.5 264.2,217.2 264.8,219.3 C265.4,221.4 267.0,251.3 267.6,250.7 C268.2,250.1 269.8,213.7 270.4,213.7 C271.0,213.7 272.4,251.7 273.1,250.7 C273.8,249.7 276.1,205.0 276.9,204.4 C277.7,203.8 279.8,243.5 280.6,245.2 C281.4,246.9 283.5,220.7 284.3,219.3 C285.1,217.9 287.4,235.9 288.0,232.2 C288.6,228.5 289.3,192.5 289.8,185.9 C290.3,179.3 292.0,172.8 292.6,173.0 C293.2,173.2 294.7,182.5 295.4,187.8 C296.1,193.1 298.3,220.3 299.1,221.1 C299.9,221.9 302.1,196.8 302.8,195.2 C303.5,193.6 304.9,203.6 305.6,206.3 C306.3,209.0 308.6,215.8 309.3,219.3 C310.0,222.8 311.4,239.9 312.0,237.8 C312.6,235.7 314.2,202.8 314.8,200.7 C315.4,198.6 316.9,215.8 317.6,219.3 C318.3,222.8 320.6,229.5 321.3,232.2 C322.0,234.9 323.4,241.2 324.1,243.3 C324.8,245.4 327.0,253.2 327.8,250.7 C328.6,248.2 330.7,226.0 331.5,221.1 C332.3,216.2 334.5,207.1 335.2,206.3 C335.9,205.5 337.4,208.8 338.0,213.7 C338.6,218.6 340.0,251.9 340.7,250.7 C341.4,249.5 343.7,211.6 344.4,202.6 C345.1,193.6 346.6,172.0 347.2,169.3 C347.8,166.6 349.0,173.6 349.6,178.5 C350.2,183.4 351.8,206.7 352.4,213.7 C353.0,220.7 354.6,243.4 355.2,241.5 C355.8,239.6 357.4,206.7 358.0,197.0 C358.6,187.3 360.2,161.0 360.7,154.4 C361.2,147.8 362.2,134.3 362.6,137.8 C363.0,141.3 363.9,179.9 364.4,185.9 C364.9,191.9 366.5,189.9 367.2,191.5 C367.9,193.1 370.3,198.2 370.9,200.7 C371.5,203.2 372.4,210.4 372.8,213.7 C373.2,217.0 374.2,228.8 374.6,230.4 C375.0,232.0 376.0,225.8 376.5,228.5 C377.0,231.2 378.7,253.0 379.3,254.4 C379.9,255.8 381.4,245.0 382.0,241.5 C382.6,238.0 384.2,221.6 384.8,223.0 C385.4,224.4 387.0,253.8 387.6,254.4 C388.2,255.0 389.8,234.5 390.4,228.5 C391.0,222.5 392.5,203.6 393.1,200.7 C393.7,197.8 395.4,203.0 395.9,202.6 C396.4,202.2 397.3,191.7 397.8,197.0 C398.3,202.3 400.0,244.7 400.6,250.7 C401.2,256.7 402.8,254.4 403.3,250.7 C403.8,247.0 404.7,220.9 405.2,217.4 C405.7,213.9 407.4,219.3 408.0,219.3 C408.6,219.3 410.4,216.0 411.0,217.4 C411.6,218.8 413.0,228.9 413.5,232.2 C414.0,235.5 414.9,247.0 415.4,247.0 C415.9,247.0 417.5,234.5 418.1,232.2 C418.7,229.9 420.4,232.9 420.9,226.7 C421.4,220.5 422.2,184.3 422.8,176.7 C423.4,169.1 425.8,157.3 426.5,158.1 C427.2,158.9 428.8,179.4 429.3,184.1 C429.8,188.8 430.6,196.4 431.1,200.7 C431.6,205.0 433.3,219.1 433.9,223.0 C434.5,226.9 436.1,233.2 436.7,235.9 C437.3,238.6 438.8,247.4 439.4,247.0 C440.0,246.6 441.6,238.0 442.2,232.2 C442.8,226.4 444.3,194.6 445.0,195.2 C445.7,195.8 447.6,234.7 448.3,237.8 C449.0,240.9 450.5,226.9 451.1,223.0 C451.7,219.1 453.4,202.4 453.9,202.6 C454.4,202.8 455.2,224.6 455.7,224.8 C456.2,225.0 457.9,208.7 458.5,204.4 C459.1,200.1 460.8,184.2 461.3,185.9 C461.8,187.6 462.6,220.3 463.1,219.3 C463.6,218.3 465.3,182.3 465.9,176.7 C466.5,171.1 468.2,166.4 468.7,169.3 C469.2,172.2 470.2,194.6 470.6,202.6 C471.0,210.6 471.8,236.2 472.4,241.5 C473.0,246.8 475.4,251.7 476.1,250.7 C476.8,249.7 478.2,233.8 478.9,232.2 C479.6,230.6 481.9,235.1 482.6,235.9 C483.3,236.7 484.8,240.8 485.4,239.6 C486.0,238.4 487.5,225.6 488.1,224.8 C488.7,224.0 490.3,229.7 490.9,232.2 C491.5,234.7 493.1,249.1 493.7,247.0 C494.3,244.9 495.9,216.0 496.5,213.7 C497.1,211.4 498.7,230.8 499.3,226.7 C499.9,222.6 501.4,186.0 502.0,176.7 C502.6,167.4 504.2,143.3 504.8,143.3 C505.4,143.3 506.5,168.9 507.0,176.7 C507.5,184.5 508.8,205.9 509.4,213.7 C510.0,221.5 511.6,249.7 512.2,247.0 C512.8,244.3 514.4,191.2 515.0,189.6 C515.6,188.0 517.1,225.4 517.8,232.2 C518.5,239.0 520.7,249.5 521.5,250.7 C522.3,251.9 524.5,249.5 525.2,243.3 C525.9,237.1 527.5,202.2 528.0,195.2 C528.5,188.2 529.4,177.3 529.8,180.4 C530.2,183.5 531.3,223.0 531.7,223.0 C532.1,223.0 533.0,183.5 533.5,180.4 C534.0,177.3 535.7,188.2 536.3,195.2 C536.9,202.2 538.1,238.2 538.7,243.3 C539.3,248.4 541.3,240.2 542.0,241.0 C542.7,241.8 544.5,250.9 545.2,250.7 C545.9,250.5 547.3,241.2 548.0,239.6 C548.7,238.0 551.1,238.4 551.7,235.9 C552.3,233.4 553.1,222.1 553.5,217.4 C553.9,212.7 554.9,193.1 555.4,193.3 C555.9,193.5 557.5,218.9 558.1,219.3 C558.7,219.7 560.2,195.6 560.9,197.0 C561.6,198.4 563.9,228.5 564.6,232.2 C565.3,235.9 566.8,229.0 567.4,230.0 C568.0,231.0 569.6,245.4 570.2,241.5 C570.8,237.6 572.3,200.1 573.0,195.2 C573.7,190.3 576.0,196.4 576.7,197.0 C577.4,197.6 578.8,199.0 579.4,200.7 C580.0,202.4 581.6,206.3 582.2,211.9 C582.8,217.5 584.0,247.8 584.6,250.7 C585.2,253.6 587.0,241.1 587.8,237.8 C588.6,234.5 590.8,222.5 591.5,221.1 C592.2,219.7 593.7,226.0 594.3,224.8 C594.9,223.6 596.5,209.2 597.0,210.0 C597.5,210.8 598.4,227.9 598.9,232.2 C599.4,236.5 601.1,248.9 601.7,248.9 C602.3,248.9 603.5,235.9 604.0,232.0 C604.5,228.1 605.7,215.6 606.3,213.7 C606.9,211.8 608.4,213.8 609.1,215.0 C609.8,216.2 612.2,221.9 612.8,224.8 C613.4,227.7 614.1,242.3 614.6,241.5 C615.1,240.7 616.8,220.9 617.4,217.4 C618.0,213.9 619.6,209.0 620.2,210.0 C620.8,211.0 622.4,226.3 623.0,226.7 C623.6,227.1 625.0,214.1 625.7,213.7 C626.4,213.3 628.7,220.1 629.4,223.0 C630.1,225.9 631.6,236.5 632.2,239.6 C632.8,242.7 634.5,250.5 635.0,250.7 C635.5,250.9 635.9,242.1 636.5,241.5 C637.1,240.9 639.1,246.3 640.0,245.0 C640.9,243.7 644.1,233.3 645.0,230.0 C645.9,226.7 647.2,216.4 648.0,215.0 C648.8,213.6 652.1,217.1 652.6,217.4" fill="none" stroke="#727272" stroke-width="1.4" stroke-linejoin="round"/>
<path d="M106.0,163.7 C106.2,171.1 107.2,220.2 107.5,230.0 C107.8,239.8 108.6,249.4 109.0,252.0 C109.4,254.6 110.6,256.3 111.0,253.0 C111.4,249.7 112.5,229.1 113.0,222.0 C113.5,214.9 115.3,189.8 115.9,189.0 C116.5,188.2 117.6,210.9 118.0,215.0 C118.4,219.1 119.2,222.8 119.6,225.9 C120.0,229.0 121.5,240.9 122.0,243.0 C122.5,245.1 123.7,248.1 124.2,244.6 C124.7,241.1 125.8,213.5 126.3,211.4 C126.8,209.3 128.0,230.3 128.4,225.9 C128.8,221.5 129.7,182.1 130.0,171.9 C130.3,161.7 131.1,138.5 131.5,134.5 C131.9,130.5 133.0,131.7 133.6,135.6 C134.2,139.5 136.7,162.3 137.2,169.8 C137.7,177.3 138.1,194.7 138.3,203.0 C138.5,211.3 139.1,239.5 139.3,244.6 C139.5,249.7 139.8,248.9 140.3,248.7 C140.8,248.5 142.9,243.8 143.4,242.5 C143.9,241.2 144.6,237.4 145.0,237.3 C145.4,237.2 146.3,239.6 146.6,241.5 C146.9,243.4 147.8,258.6 148.1,254.0 C148.4,249.4 148.9,203.7 149.2,199.9 C149.5,196.1 150.7,217.7 151.2,219.7 C151.7,221.7 153.0,220.4 153.8,218.1 C154.6,215.8 157.7,194.9 158.5,198.9 C159.3,202.9 160.2,268.6 160.6,254.4 C161.0,240.2 161.9,95.1 162.4,71.1 C162.9,47.1 164.7,33.2 165.2,38.7 C165.7,44.2 166.6,97.0 167.0,121.0 C167.4,145.0 168.6,249.7 168.9,254.4 C169.2,259.1 169.5,167.2 169.8,163.7 C170.1,160.2 171.3,216.6 171.7,223.0 C172.1,229.4 172.9,223.9 173.5,221.1 C174.1,218.3 176.5,198.2 177.2,198.0 C177.9,197.8 179.4,218.6 180.0,219.3 C180.6,220.0 182.2,204.4 182.8,204.4 C183.4,204.4 184.9,221.7 185.6,219.3 C186.3,216.9 188.6,181.7 189.3,183.1 C190.0,184.5 191.4,226.4 192.0,232.2 C192.6,238.0 194.3,239.1 195.0,235.0 C195.7,230.9 197.8,204.2 198.5,195.2 C199.2,186.2 200.7,160.7 201.3,154.4 C201.9,148.1 203.3,140.3 204.0,138.7 C204.7,137.1 207.2,138.7 207.8,139.6 C208.4,140.5 209.2,149.9 209.6,147.0 C210.0,144.1 211.0,109.0 211.5,113.7 C212.0,118.4 213.8,194.7 214.3,189.6 C214.8,184.5 215.7,77.1 216.1,67.4 C216.5,57.7 217.6,99.3 218.0,102.6 C218.4,105.9 219.4,95.0 219.8,97.0 C220.2,99.0 221.3,107.6 221.7,121.0 C222.1,134.4 223.1,222.6 223.5,217.4 C223.9,212.2 225.0,82.5 225.4,73.9 C225.8,65.3 226.8,126.1 227.2,139.6 C227.6,153.1 228.4,192.9 229.0,195.2 C229.6,197.5 232.0,159.6 232.8,160.0 C233.6,160.4 235.8,203.3 236.5,198.9 C237.2,194.5 238.8,119.6 239.3,120.2 C239.8,120.8 240.3,200.4 241.1,204.4 C241.9,208.4 245.8,157.7 246.7,156.3 C247.6,154.9 248.8,189.6 249.4,191.5 C250.0,193.4 251.3,171.4 251.9,173.0 C252.5,174.6 253.8,204.7 254.6,206.3 C255.4,207.9 258.5,195.2 259.3,187.8 C260.1,180.4 261.6,149.6 262.0,139.6 C262.4,129.6 262.7,98.4 263.0,98.0 C263.3,97.6 264.3,132.5 264.8,135.9 C265.3,139.3 267.2,131.1 267.6,128.5 C268.0,125.9 268.2,111.6 268.5,112.8 C268.8,114.0 269.9,129.4 270.4,139.6 C270.9,149.8 272.5,197.0 273.1,204.4 C273.7,211.8 274.8,207.3 275.9,206.3 C277.0,205.3 282.1,199.1 283.3,195.2 C284.5,191.3 286.3,174.0 287.0,171.1 C287.7,168.2 289.2,169.5 289.8,169.3 C290.4,169.1 292.0,171.2 292.6,169.3 C293.2,167.4 294.8,157.5 295.4,152.6 C296.0,147.7 297.5,129.7 298.1,124.8 C298.7,119.9 300.2,110.4 300.9,108.1 C301.6,105.8 303.9,103.8 304.6,104.4 C305.3,105.0 306.8,111.0 307.4,113.7 C308.0,116.4 309.6,124.0 310.2,128.5 C310.8,133.0 312.4,150.1 313.0,154.4 C313.6,158.7 315.2,164.5 315.7,167.4 C316.2,170.3 317.2,181.4 317.6,180.4 C318.0,179.4 319.0,164.3 319.4,158.1 C319.8,151.9 320.8,130.7 321.3,124.8 C321.8,118.9 323.6,100.0 324.1,105.4 C324.6,110.8 325.4,166.5 325.9,173.0 C326.4,179.5 328.1,160.6 328.7,163.7 C329.3,166.8 330.8,196.2 331.5,200.7 C332.2,205.2 334.4,205.0 335.2,204.4 C336.0,203.8 338.3,206.3 338.9,195.2 C339.5,184.1 340.3,109.3 340.7,104.4 C341.1,99.5 342.1,147.6 342.6,150.7 C343.1,153.8 344.9,133.8 345.4,132.2 C345.9,130.6 346.5,133.4 346.9,135.9 C347.3,138.4 348.3,151.3 348.7,154.4 C349.1,157.5 350.2,165.3 350.6,163.7 C351.0,162.1 351.9,146.0 352.4,139.6 C352.9,133.2 354.7,107.9 355.2,106.3 C355.7,104.7 356.6,121.1 357.0,124.8 C357.4,128.5 358.5,139.2 358.9,139.6 C359.3,140.0 360.2,131.4 360.7,128.5 C361.2,125.6 363.0,115.1 363.5,113.7 C364.0,112.3 364.9,114.7 365.4,115.5 C365.9,116.3 367.5,119.7 368.1,121.1 C368.7,122.5 370.3,127.3 370.9,128.5 C371.5,129.7 373.2,131.2 373.7,132.2 C374.2,133.2 375.2,138.2 375.6,137.8 C376.0,137.4 377.0,127.3 377.4,128.5 C377.8,129.7 379.0,151.8 379.3,148.9 C379.6,146.0 380.0,97.5 380.2,102.6 C380.4,107.7 380.8,186.4 381.1,195.2 C381.4,204.0 382.6,181.2 383.0,182.2 C383.4,183.2 384.4,200.9 384.8,204.4 C385.2,207.9 386.2,221.7 386.7,213.7 C387.2,205.7 388.9,137.3 389.4,132.2 C389.9,127.1 390.9,165.8 391.3,167.4 C391.7,169.0 392.6,147.6 393.1,147.0 C393.6,146.4 395.3,157.2 395.9,161.9 C396.5,166.6 398.2,193.7 398.7,189.6 C399.2,185.5 400.2,120.1 400.6,124.8 C401.0,129.5 402.0,221.9 402.4,232.2 C402.8,242.5 403.9,219.5 404.3,217.4 C404.7,215.3 405.6,214.5 406.1,213.7 C406.6,212.9 408.3,211.0 408.9,210.0 C409.5,209.0 411.0,205.6 411.7,204.4 C412.4,203.2 414.6,198.9 415.4,198.9 C416.2,198.9 418.4,207.3 419.1,204.4 C419.8,201.5 421.3,177.3 421.9,173.0 C422.5,168.7 424.0,167.7 424.6,165.6 C425.2,163.5 426.8,157.7 427.4,154.4 C428.0,151.1 429.6,141.5 430.2,135.9 C430.8,130.3 432.4,107.7 433.0,104.4 C433.6,101.1 435.2,114.0 435.7,106.3 C436.2,98.6 437.5,43.1 437.9,35.5 C438.3,27.9 438.7,28.0 439.1,37.5 C439.5,47.0 440.9,111.4 441.3,121.1 C441.7,130.8 442.6,120.7 443.0,124.8 C443.4,128.9 444.2,152.7 444.6,158.1 C445.0,163.5 446.1,174.0 446.5,173.0 C446.9,172.0 447.9,148.5 448.3,148.9 C448.7,149.3 449.8,171.6 450.2,176.7 C450.6,181.8 451.5,192.9 452.0,195.2 C452.5,197.5 454.1,196.6 454.8,197.0 C455.5,197.4 457.8,198.9 458.5,198.9 C459.2,198.9 460.7,197.6 461.3,197.0 C461.9,196.4 463.6,194.7 464.1,193.3 C464.6,191.9 465.4,186.8 465.9,184.1 C466.4,181.4 468.2,170.7 468.7,169.3 C469.2,167.9 470.2,170.1 470.6,171.1 C471.0,172.1 472.0,183.6 472.4,178.5 C472.8,173.4 473.9,131.2 474.3,124.8 C474.7,118.4 475.7,121.5 476.1,121.1 C476.5,120.7 477.6,120.1 478.0,121.1 C478.4,122.1 479.4,131.6 479.8,130.4 C480.2,129.2 481.3,115.1 481.7,110.0 C482.1,104.9 483.1,83.7 483.5,84.1 C483.9,84.5 485.0,105.9 485.4,113.7 C485.8,121.5 486.8,150.7 487.2,154.4 C487.6,158.1 488.7,146.0 489.1,147.0 C489.5,148.0 490.4,158.8 490.9,163.7 C491.4,168.6 493.1,187.2 493.7,191.5 C494.3,195.8 495.9,200.5 496.5,202.6 C497.1,204.7 498.2,209.2 499.3,210.0 C500.4,210.8 505.6,209.8 506.7,210.0 C507.8,210.2 508.8,217.7 509.4,211.9 C510.0,206.1 511.6,169.0 512.2,158.1 C512.8,147.2 514.5,120.9 515.0,113.7 C515.5,106.5 516.5,92.9 516.9,93.3 C517.3,93.7 518.3,116.8 518.7,117.4 C519.1,118.0 520.1,106.1 520.6,98.9 C521.1,91.7 522.6,52.6 523.0,52.6 C523.4,52.6 524.0,88.2 524.3,98.9 C524.6,109.6 525.3,144.8 525.6,148.9 C525.9,153.0 526.6,138.2 527.0,135.9 C527.4,133.6 528.5,127.1 528.9,128.5 C529.3,129.9 530.3,144.0 530.7,148.9 C531.1,153.8 532.2,168.9 532.6,173.0 C533.0,177.1 533.9,182.4 534.4,185.9 C534.9,189.4 536.6,201.1 537.2,204.4 C537.8,207.7 539.1,218.7 539.6,215.6 C540.1,212.5 541.1,190.9 541.5,176.7 C541.9,162.5 542.9,89.4 543.3,87.8 C543.7,86.2 544.7,150.8 545.2,161.9 C545.7,173.0 547.4,182.0 548.0,187.8 C548.6,193.6 550.2,210.0 550.7,213.7 C551.2,217.4 552.2,223.2 552.6,221.1 C553.0,219.0 554.0,195.4 554.4,195.2 C554.8,195.0 555.8,219.1 556.3,219.3 C556.8,219.5 558.6,197.2 559.1,197.0 C559.6,196.8 560.4,216.2 560.9,217.4 C561.4,218.6 563.0,208.7 563.7,208.1 C564.4,207.5 566.6,211.3 567.4,211.9 C568.2,212.5 570.5,215.6 571.1,213.7 C571.7,211.8 572.6,203.4 573.0,195.2 C573.4,187.0 574.0,139.8 574.3,139.6 C574.6,139.4 575.6,183.0 576.1,193.3 C576.6,203.6 578.0,235.5 578.5,232.2 C579.0,228.9 580.0,165.8 580.4,163.7 C580.8,161.6 581.8,206.1 582.2,213.7 C582.6,221.3 583.6,233.2 584.1,232.2 C584.6,231.2 586.3,208.7 586.9,204.4 C587.5,200.1 589.1,195.1 589.6,193.3 C590.1,191.5 591.0,190.5 591.5,187.8 C592.0,185.1 593.4,170.7 593.9,169.3 C594.4,167.9 595.4,177.1 596.1,174.8 C596.8,172.5 599.1,149.7 599.8,148.9 C600.5,148.1 601.5,162.3 602.0,167.4 C602.5,172.5 603.9,190.1 604.4,195.2 C604.9,200.3 605.8,211.4 606.3,213.7 C606.8,216.0 608.4,215.6 609.1,215.6 C609.8,215.6 612.2,216.8 612.8,213.7 C613.4,210.6 614.2,188.2 614.6,187.8 C615.0,187.4 616.0,207.5 616.5,210.0 C617.0,212.5 618.7,208.4 619.3,210.0 C619.9,211.6 621.4,224.6 622.0,224.8 C622.6,225.0 624.3,210.5 624.8,211.9 C625.3,213.3 626.2,237.6 626.7,237.8 C627.2,238.0 628.8,214.3 629.4,213.7 C630.0,213.1 631.6,228.1 632.2,232.2 C632.8,236.3 634.6,250.3 635.0,250.7 C635.4,251.1 635.5,236.9 635.9,235.9 C636.3,234.9 638.0,240.7 638.7,241.5 C639.4,242.3 641.7,245.8 642.4,243.3 C643.1,240.8 644.6,223.4 645.2,219.3 C645.8,215.2 647.4,207.3 648.0,206.3 C648.6,205.3 650.2,208.8 650.7,210.0 C651.2,211.2 652.4,216.6 652.6,217.4" fill="none" stroke="#676767" stroke-width="1.4" stroke-linejoin="round"/>
</g>
<rect x="105.8" y="12.6" width="547.4000000000001" height="243.4" fill="none" stroke="#444" stroke-width="1.5"/>
<line x1="122.39999999999998" y1="12.6" x2="122.39999999999998" y2="27.6" stroke="#555" stroke-width="1.2"/>
<line x1="122.39999999999998" y1="256.0" x2="122.39999999999998" y2="243.0" stroke="#555" stroke-width="1.2"/>
<line x1="148.07999999999998" y1="12.6" x2="148.07999999999998" y2="15.1" stroke="#999" stroke-width="1.2"/>
<line x1="148.07999999999998" y1="256.0" x2="148.07999999999998" y2="253.5" stroke="#999" stroke-width="1.2"/>
<line x1="173.75999999999996" y1="12.6" x2="173.75999999999996" y2="15.1" stroke="#999" stroke-width="1.2"/>
<line x1="173.75999999999996" y1="256.0" x2="173.75999999999996" y2="253.5" stroke="#999" stroke-width="1.2"/>
<line x1="199.43999999999997" y1="12.6" x2="199.43999999999997" y2="15.1" stroke="#999" stroke-width="1.2"/>
<line x1="199.43999999999997" y1="256.0" x2="199.43999999999997" y2="253.5" stroke="#999" stroke-width="1.2"/>
<line x1="225.11999999999995" y1="12.6" x2="225.11999999999995" y2="15.1" stroke="#999" stroke-width="1.2"/>
<line x1="225.11999999999995" y1="256.0" x2="225.11999999999995" y2="253.5" stroke="#999" stroke-width="1.2"/>
<line x1="250.79999999999998" y1="12.6" x2="250.79999999999998" y2="27.6" stroke="#555" stroke-width="1.2"/>
<line x1="250.79999999999998" y1="256.0" x2="250.79999999999998" y2="243.0" stroke="#555" stroke-width="1.2"/>
<line x1="276.47999999999996" y1="12.6" x2="276.47999999999996" y2="15.1" stroke="#999" stroke-width="1.2"/>
<line x1="276.47999999999996" y1="256.0" x2="276.47999999999996" y2="253.5" stroke="#999" stroke-width="1.2"/>
<line x1="302.15999999999997" y1="12.6" x2="302.15999999999997" y2="15.1" stroke="#999" stroke-width="1.2"/>
<line x1="302.15999999999997" y1="256.0" x2="302.15999999999997" y2="253.5" stroke="#999" stroke-width="1.2"/>
<line x1="327.84" y1="12.6" x2="327.84" y2="15.1" stroke="#999" stroke-width="1.2"/>
<line x1="327.84" y1="256.0" x2="327.84" y2="253.5" stroke="#999" stroke-width="1.2"/>
<line x1="353.52" y1="12.6" x2="353.52" y2="15.1" stroke="#999" stroke-width="1.2"/>
<line x1="353.52" y1="256.0" x2="353.52" y2="253.5" stroke="#999" stroke-width="1.2"/>
<line x1="379.2" y1="12.6" x2="379.2" y2="27.6" stroke="#555" stroke-width="1.2"/>
<line x1="379.2" y1="256.0" x2="379.2" y2="243.0" stroke="#555" stroke-width="1.2"/>
<line x1="404.88" y1="12.6" x2="404.88" y2="15.1" stroke="#999" stroke-width="1.2"/>
<line x1="404.88" y1="256.0" x2="404.88" y2="253.5" stroke="#999" stroke-width="1.2"/>
<line x1="430.56" y1="12.6" x2="430.56" y2="15.1" stroke="#999" stroke-width="1.2"/>
<line x1="430.56" y1="256.0" x2="430.56" y2="253.5" stroke="#999" stroke-width="1.2"/>
<line x1="456.24" y1="12.6" x2="456.24" y2="15.1" stroke="#999" stroke-width="1.2"/>
<line x1="456.24" y1="256.0" x2="456.24" y2="253.5" stroke="#999" stroke-width="1.2"/>
<line x1="481.92" y1="12.6" x2="481.92" y2="15.1" stroke="#999" stroke-width="1.2"/>
<line x1="481.92" y1="256.0" x2="481.92" y2="253.5" stroke="#999" stroke-width="1.2"/>
<line x1="507.6" y1="12.6" x2="507.6" y2="27.6" stroke="#555" stroke-width="1.2"/>
<line x1="507.6" y1="256.0" x2="507.6" y2="243.0" stroke="#555" stroke-width="1.2"/>
<line x1="533.28" y1="12.6" x2="533.28" y2="15.1" stroke="#999" stroke-width="1.2"/>
<line x1="533.28" y1="256.0" x2="533.28" y2="253.5" stroke="#999" stroke-width="1.2"/>
<line x1="558.96" y1="12.6" x2="558.96" y2="15.1" stroke="#999" stroke-width="1.2"/>
<line x1="558.96" y1="256.0" x2="558.96" y2="253.5" stroke="#999" stroke-width="1.2"/>
<line x1="584.64" y1="12.6" x2="584.64" y2="15.1" stroke="#999" stroke-width="1.2"/>
<line x1="584.64" y1="256.0" x2="584.64" y2="253.5" stroke="#999" stroke-width="1.2"/>
<line x1="610.3199999999999" y1="12.6" x2="610.3199999999999" y2="15.1" stroke="#999" stroke-width="1.2"/>
<line x1="610.3199999999999" y1="256.0" x2="610.3199999999999" y2="253.5" stroke="#999" stroke-width="1.2"/>
<line x1="636.0" y1="12.6" x2="636.0" y2="27.6" stroke="#555" stroke-width="1.2"/>
<line x1="636.0" y1="256.0" x2="636.0" y2="243.0" stroke="#555" stroke-width="1.2"/>
<line x1="105.8" y1="256.0" x2="111.8" y2="256.0" stroke="#555" stroke-width="1.1"/>
<line x1="105.8" y1="242.12" x2="107.8" y2="242.12" stroke="#555" stroke-width="1.1"/>
<line x1="105.8" y1="228.24" x2="107.8" y2="228.24" stroke="#555" stroke-width="1.1"/>
<line x1="105.8" y1="214.35999999999999" x2="107.8" y2="214.35999999999999" stroke="#555" stroke-width="1.1"/>
<line x1="105.8" y1="200.48" x2="107.8" y2="200.48" stroke="#555" stroke-width="1.1"/>
<line x1="105.8" y1="186.6" x2="111.8" y2="186.6" stroke="#555" stroke-width="1.1"/>
<line x1="105.8" y1="172.71999999999997" x2="107.8" y2="172.71999999999997" stroke="#555" stroke-width="1.1"/>
<line x1="105.8" y1="158.83999999999997" x2="107.8" y2="158.83999999999997" stroke="#555" stroke-width="1.1"/>
<line x1="105.8" y1="144.95999999999998" x2="107.8" y2="144.95999999999998" stroke="#555" stroke-width="1.1"/>
<line x1="105.8" y1="131.07999999999998" x2="107.8" y2="131.07999999999998" stroke="#555" stroke-width="1.1"/>
<line x1="105.8" y1="117.19999999999999" x2="111.8" y2="117.19999999999999" stroke="#555" stroke-width="1.1"/>
<line x1="105.8" y1="103.31999999999996" x2="107.8" y2="103.31999999999996" stroke="#555" stroke-width="1.1"/>
<line x1="105.8" y1="89.43999999999997" x2="107.8" y2="89.43999999999997" stroke="#555" stroke-width="1.1"/>
<line x1="105.8" y1="75.55999999999997" x2="107.8" y2="75.55999999999997" stroke="#555" stroke-width="1.1"/>
<line x1="105.8" y1="61.67999999999998" x2="107.8" y2="61.67999999999998" stroke="#555" stroke-width="1.1"/>
<line x1="105.8" y1="47.79999999999998" x2="111.8" y2="47.79999999999998" stroke="#555" stroke-width="1.1"/>
<line x1="105.8" y1="33.91999999999996" x2="107.8" y2="33.91999999999996" stroke="#555" stroke-width="1.1"/>
<line x1="105.8" y1="20.039999999999964" x2="107.8" y2="20.039999999999964" stroke="#555" stroke-width="1.1"/>
<line x1="653.2" y1="256.0" x2="647.2" y2="256.0" stroke="#555" stroke-width="1.1"/>
<line x1="653.2" y1="246.264" x2="651.2" y2="246.264" stroke="#555" stroke-width="1.1"/>
<line x1="653.2" y1="236.528" x2="651.2" y2="236.528" stroke="#555" stroke-width="1.1"/>
<line x1="653.2" y1="226.792" x2="651.2" y2="226.792" stroke="#555" stroke-width="1.1"/>
<line x1="653.2" y1="217.05599999999998" x2="651.2" y2="217.05599999999998" stroke="#555" stroke-width="1.1"/>
<line x1="653.2" y1="207.32" x2="647.2" y2="207.32" stroke="#555" stroke-width="1.1"/>
<line x1="653.2" y1="197.584" x2="651.2" y2="197.584" stroke="#555" stroke-width="1.1"/>
<line x1="653.2" y1="187.848" x2="651.2" y2="187.848" stroke="#555" stroke-width="1.1"/>
<line x1="653.2" y1="178.112" x2="651.2" y2="178.112" stroke="#555" stroke-width="1.1"/>
<line x1="653.2" y1="168.376" x2="651.2" y2="168.376" stroke="#555" stroke-width="1.1"/>
<line x1="653.2" y1="158.64" x2="647.2" y2="158.64" stroke="#555" stroke-width="1.1"/>
<line x1="653.2" y1="148.904" x2="651.2" y2="148.904" stroke="#555" stroke-width="1.1"/>
<line x1="653.2" y1="139.16799999999998" x2="651.2" y2="139.16799999999998" stroke="#555" stroke-width="1.1"/>
<line x1="653.2" y1="129.43200000000002" x2="651.2" y2="129.43200000000002" stroke="#555" stroke-width="1.1"/>
<line x1="653.2" y1="119.696" x2="651.2" y2="119.696" stroke="#555" stroke-width="1.1"/>
<line x1="653.2" y1="109.96000000000001" x2="647.2" y2="109.96000000000001" stroke="#555" stroke-width="1.1"/>
<line x1="653.2" y1="100.22399999999999" x2="651.2" y2="100.22399999999999" stroke="#555" stroke-width="1.1"/>
<line x1="653.2" y1="90.48799999999997" x2="651.2" y2="90.48799999999997" stroke="#555" stroke-width="1.1"/>
<line x1="653.2" y1="80.75200000000001" x2="651.2" y2="80.75200000000001" stroke="#555" stroke-width="1.1"/>
<line x1="653.2" y1="71.01599999999999" x2="651.2" y2="71.01599999999999" stroke="#555" stroke-width="1.1"/>
<line x1="653.2" y1="61.28" x2="647.2" y2="61.28" stroke="#555" stroke-width="1.1"/>
<line x1="653.2" y1="51.54399999999998" x2="651.2" y2="51.54399999999998" stroke="#555" stroke-width="1.1"/>
<line x1="653.2" y1="41.80799999999999" x2="651.2" y2="41.80799999999999" stroke="#555" stroke-width="1.1"/>
<line x1="653.2" y1="32.071999999999974" x2="651.2" y2="32.071999999999974" stroke="#555" stroke-width="1.1"/>
<line x1="653.2" y1="22.335999999999956" x2="651.2" y2="22.335999999999956" stroke="#555" stroke-width="1.1"/>
<line x1="653.2" y1="12.599999999999994" x2="647.2" y2="12.599999999999994" stroke="#555" stroke-width="1.1"/>
<line x1="98.5" y1="534.5" x2="106.5" y2="534.5" stroke="#333" stroke-width="1.2"/>
<line x1="98.5" y1="545.925" x2="102.0" y2="545.925" stroke="#333" stroke-width="1.2"/>
<line x1="98.5" y1="557.35" x2="102.0" y2="557.35" stroke="#333" stroke-width="1.2"/>
<line x1="98.5" y1="568.775" x2="102.0" y2="568.775" stroke="#333" stroke-width="1.2"/>
<line x1="98.5" y1="580.2" x2="102.0" y2="580.2" stroke="#333" stroke-width="1.2"/>
<line x1="98.5" y1="591.625" x2="106.5" y2="591.625" stroke="#333" stroke-width="1.2"/>
<line x1="98.5" y1="603.05" x2="102.0" y2="603.05" stroke="#333" stroke-width="1.2"/>
<line x1="98.5" y1="614.475" x2="102.0" y2="614.475" stroke="#333" stroke-width="1.2"/>
<line x1="98.5" y1="625.9" x2="102.0" y2="625.9" stroke="#333" stroke-width="1.2"/>
<line x1="98.5" y1="637.325" x2="102.0" y2="637.325" stroke="#333" stroke-width="1.2"/>
<line x1="98.5" y1="648.75" x2="106.5" y2="648.75" stroke="#333" stroke-width="1.2"/>
<line x1="98.5" y1="660.175" x2="102.0" y2="660.175" stroke="#333" stroke-width="1.2"/>
<line x1="98.5" y1="671.6" x2="102.0" y2="671.6" stroke="#333" stroke-width="1.2"/>
<line x1="98.5" y1="683.025" x2="102.0" y2="683.025" stroke="#333" stroke-width="1.2"/>
<line x1="98.5" y1="694.45" x2="102.0" y2="694.45" stroke="#333" stroke-width="1.2"/>
<line x1="98.5" y1="705.875" x2="106.5" y2="705.875" stroke="#333" stroke-width="1.2"/>
<line x1="98.5" y1="717.3" x2="102.0" y2="717.3" stroke="#333" stroke-width="1.2"/>
<line x1="98.5" y1="728.725" x2="102.0" y2="728.725" stroke="#333" stroke-width="1.2"/>
<line x1="98.5" y1="740.15" x2="102.0" y2="740.15" stroke="#333" stroke-width="1.2"/>
<line x1="98.5" y1="751.575" x2="102.0" y2="751.575" stroke="#333" stroke-width="1.2"/>
<line x1="98.5" y1="763.0" x2="106.5" y2="763.0" stroke="#333" stroke-width="1.2"/>
<line x1="115.90000000000003" y1="763" x2="115.90000000000003" y2="755" stroke="#333" stroke-width="1.2"/>
<line x1="142.19000000000003" y1="763" x2="142.19000000000003" y2="759" stroke="#333" stroke-width="1.2"/>
<line x1="168.48000000000002" y1="763" x2="168.48000000000002" y2="759" stroke="#333" stroke-width="1.2"/>
<line x1="194.77" y1="763" x2="194.77" y2="759" stroke="#333" stroke-width="1.2"/>
<line x1="221.06" y1="763" x2="221.06" y2="759" stroke="#333" stroke-width="1.2"/>
<line x1="247.35000000000002" y1="763" x2="247.35000000000002" y2="755" stroke="#333" stroke-width="1.2"/>
<line x1="273.64" y1="763" x2="273.64" y2="759" stroke="#333" stroke-width="1.2"/>
<line x1="299.93" y1="763" x2="299.93" y2="759" stroke="#333" stroke-width="1.2"/>
<line x1="326.22" y1="763" x2="326.22" y2="759" stroke="#333" stroke-width="1.2"/>
<line x1="352.51" y1="763" x2="352.51" y2="759" stroke="#333" stroke-width="1.2"/>
<line x1="378.8" y1="763" x2="378.8" y2="755" stroke="#333" stroke-width="1.2"/>
<line x1="405.09000000000003" y1="763" x2="405.09000000000003" y2="759" stroke="#333" stroke-width="1.2"/>
<line x1="431.38" y1="763" x2="431.38" y2="759" stroke="#333" stroke-width="1.2"/>
<line x1="457.67" y1="763" x2="457.67" y2="759" stroke="#333" stroke-width="1.2"/>
<line x1="483.96000000000004" y1="763" x2="483.96000000000004" y2="759" stroke="#333" stroke-width="1.2"/>
<line x1="510.25" y1="763" x2="510.25" y2="755" stroke="#333" stroke-width="1.2"/>
<line x1="536.54" y1="763" x2="536.54" y2="759" stroke="#333" stroke-width="1.2"/>
<line x1="562.83" y1="763" x2="562.83" y2="759" stroke="#333" stroke-width="1.2"/>
<line x1="589.12" y1="763" x2="589.12" y2="759" stroke="#333" stroke-width="1.2"/>
<line x1="615.41" y1="763" x2="615.41" y2="759" stroke="#333" stroke-width="1.2"/>
<line x1="641.7" y1="763" x2="641.7" y2="755" stroke="#333" stroke-width="1.2"/>
<line x1="98.7" y1="809.5" x2="106.7" y2="809.5" stroke="#333" stroke-width="1.2"/>
<line x1="98.7" y1="820.875" x2="102.2" y2="820.875" stroke="#333" stroke-width="1.2"/>
<line x1="98.7" y1="832.25" x2="102.2" y2="832.25" stroke="#333" stroke-width="1.2"/>
<line x1="98.7" y1="843.625" x2="102.2" y2="843.625" stroke="#333" stroke-width="1.2"/>
<line x1="98.7" y1="855.0" x2="102.2" y2="855.0" stroke="#333" stroke-width="1.2"/>
<line x1="98.7" y1="866.375" x2="106.7" y2="866.375" stroke="#333" stroke-width="1.2"/>
<line x1="98.7" y1="877.75" x2="102.2" y2="877.75" stroke="#333" stroke-width="1.2"/>
<line x1="98.7" y1="889.125" x2="102.2" y2="889.125" stroke="#333" stroke-width="1.2"/>
<line x1="98.7" y1="900.5" x2="102.2" y2="900.5" stroke="#333" stroke-width="1.2"/>
<line x1="98.7" y1="911.875" x2="102.2" y2="911.875" stroke="#333" stroke-width="1.2"/>
<line x1="98.7" y1="923.25" x2="106.7" y2="923.25" stroke="#333" stroke-width="1.2"/>
<line x1="98.7" y1="934.625" x2="102.2" y2="934.625" stroke="#333" stroke-width="1.2"/>
<line x1="98.7" y1="946.0" x2="102.2" y2="946.0" stroke="#333" stroke-width="1.2"/>
<line x1="98.7" y1="957.375" x2="102.2" y2="957.375" stroke="#333" stroke-width="1.2"/>
<line x1="98.7" y1="968.75" x2="102.2" y2="968.75" stroke="#333" stroke-width="1.2"/>
<line x1="98.7" y1="980.125" x2="106.7" y2="980.125" stroke="#333" stroke-width="1.2"/>
<line x1="98.7" y1="991.5" x2="102.2" y2="991.5" stroke="#333" stroke-width="1.2"/>
<line x1="98.7" y1="1002.875" x2="102.2" y2="1002.875" stroke="#333" stroke-width="1.2"/>
<line x1="98.7" y1="1014.25" x2="102.2" y2="1014.25" stroke="#333" stroke-width="1.2"/>
<line x1="98.7" y1="1025.625" x2="102.2" y2="1025.625" stroke="#333" stroke-width="1.2"/>
<line x1="98.7" y1="1037.0" x2="106.7" y2="1037.0" stroke="#333" stroke-width="1.2"/>
<line x1="102.15749999999991" y1="1037" x2="102.15749999999991" y2="1034" stroke="#333" stroke-width="1.2"/>
<line x1="115.29999999999995" y1="1037" x2="115.29999999999995" y2="1031" stroke="#333" stroke-width="1.2"/>
<line x1="128.44249999999994" y1="1037" x2="128.44249999999994" y2="1034" stroke="#333" stroke-width="1.2"/>
<line x1="141.58499999999995" y1="1037" x2="141.58499999999995" y2="1034" stroke="#333" stroke-width="1.2"/>
<line x1="154.72749999999994" y1="1037" x2="154.72749999999994" y2="1034" stroke="#333" stroke-width="1.2"/>
<line x1="167.86999999999995" y1="1037" x2="167.86999999999995" y2="1031" stroke="#333" stroke-width="1.2"/>
<line x1="181.01249999999996" y1="1037" x2="181.01249999999996" y2="1034" stroke="#333" stroke-width="1.2"/>
<line x1="194.15499999999994" y1="1037" x2="194.15499999999994" y2="1034" stroke="#333" stroke-width="1.2"/>
<line x1="207.29749999999996" y1="1037" x2="207.29749999999996" y2="1034" stroke="#333" stroke-width="1.2"/>
<line x1="220.43999999999994" y1="1037" x2="220.43999999999994" y2="1031" stroke="#333" stroke-width="1.2"/>
<line x1="233.58249999999995" y1="1037" x2="233.58249999999995" y2="1034" stroke="#333" stroke-width="1.2"/>
<line x1="246.72499999999997" y1="1037" x2="246.72499999999997" y2="1034" stroke="#333" stroke-width="1.2"/>
<line x1="259.86749999999995" y1="1037" x2="259.86749999999995" y2="1034" stroke="#333" stroke-width="1.2"/>
<line x1="273.01" y1="1037" x2="273.01" y2="1031" stroke="#333" stroke-width="1.2"/>
<line x1="286.1525" y1="1037" x2="286.1525" y2="1034" stroke="#333" stroke-width="1.2"/>
<line x1="299.29499999999996" y1="1037" x2="299.29499999999996" y2="1034" stroke="#333" stroke-width="1.2"/>
<line x1="312.4375" y1="1037" x2="312.4375" y2="1034" stroke="#333" stroke-width="1.2"/>
<line x1="325.58" y1="1037" x2="325.58" y2="1031" stroke="#333" stroke-width="1.2"/>
<line x1="338.72249999999997" y1="1037" x2="338.72249999999997" y2="1034" stroke="#333" stroke-width="1.2"/>
<line x1="351.86499999999995" y1="1037" x2="351.86499999999995" y2="1034" stroke="#333" stroke-width="1.2"/>
<line x1="365.0075" y1="1037" x2="365.0075" y2="1034" stroke="#333" stroke-width="1.2"/>
<line x1="378.15" y1="1037" x2="378.15" y2="1031" stroke="#333" stroke-width="1.2"/>
<line x1="391.29249999999996" y1="1037" x2="391.29249999999996" y2="1034" stroke="#333" stroke-width="1.2"/>
<line x1="404.435" y1="1037" x2="404.435" y2="1034" stroke="#333" stroke-width="1.2"/>
<line x1="417.5775" y1="1037" x2="417.5775" y2="1034" stroke="#333" stroke-width="1.2"/>
<line x1="430.71999999999997" y1="1037" x2="430.71999999999997" y2="1031" stroke="#333" stroke-width="1.2"/>
<line x1="443.86249999999995" y1="1037" x2="443.86249999999995" y2="1034" stroke="#333" stroke-width="1.2"/>
<line x1="457.005" y1="1037" x2="457.005" y2="1034" stroke="#333" stroke-width="1.2"/>
<line x1="470.1475" y1="1037" x2="470.1475" y2="1034" stroke="#333" stroke-width="1.2"/>
<line x1="483.28999999999996" y1="1037" x2="483.28999999999996" y2="1031" stroke="#333" stroke-width="1.2"/>
<line x1="496.4325" y1="1037" x2="496.4325" y2="1034" stroke="#333" stroke-width="1.2"/>
<line x1="509.575" y1="1037" x2="509.575" y2="1034" stroke="#333" stroke-width="1.2"/>
<line x1="522.7175" y1="1037" x2="522.7175" y2="1034" stroke="#333" stroke-width="1.2"/>
<line x1="535.86" y1="1037" x2="535.86" y2="1031" stroke="#333" stroke-width="1.2"/>
<line x1="549.0025" y1="1037" x2="549.0025" y2="1034" stroke="#333" stroke-width="1.2"/>
<line x1="562.145" y1="1037" x2="562.145" y2="1034" stroke="#333" stroke-width="1.2"/>
<line x1="575.2875" y1="1037" x2="575.2875" y2="1034" stroke="#333" stroke-width="1.2"/>
<line x1="588.4300000000001" y1="1037" x2="588.4300000000001" y2="1031" stroke="#333" stroke-width="1.2"/>
<line x1="601.5725" y1="1037" x2="601.5725" y2="1034" stroke="#333" stroke-width="1.2"/>
<line x1="614.715" y1="1037" x2="614.715" y2="1034" stroke="#333" stroke-width="1.2"/>
<line x1="627.8575000000001" y1="1037" x2="627.8575000000001" y2="1034" stroke="#333" stroke-width="1.2"/>
<line x1="641.0" y1="1037" x2="641.0" y2="1031" stroke="#333" stroke-width="1.2"/>
<line x1="654.1425" y1="1037" x2="654.1425" y2="1034" stroke="#333" stroke-width="1.2"/>
<line x1="97.5" y1="1082.5" x2="105.5" y2="1082.5" stroke="#333" stroke-width="1.2"/>
<line x1="97.5" y1="1093.875" x2="101.0" y2="1093.875" stroke="#333" stroke-width="1.2"/>
<line x1="97.5" y1="1105.25" x2="101.0" y2="1105.25" stroke="#333" stroke-width="1.2"/>
<line x1="97.5" y1="1116.625" x2="101.0" y2="1116.625" stroke="#333" stroke-width="1.2"/>
<line x1="97.5" y1="1128.0" x2="101.0" y2="1128.0" stroke="#333" stroke-width="1.2"/>
<line x1="97.5" y1="1139.375" x2="105.5" y2="1139.375" stroke="#333" stroke-width="1.2"/>
<line x1="97.5" y1="1150.75" x2="101.0" y2="1150.75" stroke="#333" stroke-width="1.2"/>
<line x1="97.5" y1="1162.125" x2="101.0" y2="1162.125" stroke="#333" stroke-width="1.2"/>
<line x1="97.5" y1="1173.5" x2="101.0" y2="1173.5" stroke="#333" stroke-width="1.2"/>
<line x1="97.5" y1="1184.875" x2="101.0" y2="1184.875" stroke="#333" stroke-width="1.2"/>
<line x1="97.5" y1="1196.25" x2="105.5" y2="1196.25" stroke="#333" stroke-width="1.2"/>
<line x1="97.5" y1="1207.625" x2="101.0" y2="1207.625" stroke="#333" stroke-width="1.2"/>
<line x1="97.5" y1="1219.0" x2="101.0" y2="1219.0" stroke="#333" stroke-width="1.2"/>
<line x1="97.5" y1="1230.375" x2="101.0" y2="1230.375" stroke="#333" stroke-width="1.2"/>
<line x1="97.5" y1="1241.75" x2="101.0" y2="1241.75" stroke="#333" stroke-width="1.2"/>
<line x1="97.5" y1="1253.125" x2="105.5" y2="1253.125" stroke="#333" stroke-width="1.2"/>
<line x1="97.5" y1="1264.5" x2="101.0" y2="1264.5" stroke="#333" stroke-width="1.2"/>
<line x1="97.5" y1="1275.875" x2="101.0" y2="1275.875" stroke="#333" stroke-width="1.2"/>
<line x1="97.5" y1="1287.25" x2="101.0" y2="1287.25" stroke="#333" stroke-width="1.2"/>
<line x1="97.5" y1="1298.625" x2="101.0" y2="1298.625" stroke="#333" stroke-width="1.2"/>
<line x1="97.5" y1="1310.0" x2="105.5" y2="1310.0" stroke="#333" stroke-width="1.2"/>
<line x1="114.89999999999998" y1="1310" x2="114.89999999999998" y2="1302" stroke="#333" stroke-width="1.2"/>
<line x1="141.12999999999997" y1="1310" x2="141.12999999999997" y2="1306" stroke="#333" stroke-width="1.2"/>
<line x1="167.35999999999996" y1="1310" x2="167.35999999999996" y2="1306" stroke="#333" stroke-width="1.2"/>
<line x1="193.58999999999997" y1="1310" x2="193.58999999999997" y2="1306" stroke="#333" stroke-width="1.2"/>
<line x1="219.81999999999996" y1="1310" x2="219.81999999999996" y2="1306" stroke="#333" stroke-width="1.2"/>
<line x1="246.04999999999998" y1="1310" x2="246.04999999999998" y2="1302" stroke="#333" stroke-width="1.2"/>
<line x1="272.28" y1="1310" x2="272.28" y2="1306" stroke="#333" stroke-width="1.2"/>
<line x1="298.51" y1="1310" x2="298.51" y2="1306" stroke="#333" stroke-width="1.2"/>
<line x1="324.74" y1="1310" x2="324.74" y2="1306" stroke="#333" stroke-width="1.2"/>
<line x1="350.96999999999997" y1="1310" x2="350.96999999999997" y2="1306" stroke="#333" stroke-width="1.2"/>
<line x1="377.2" y1="1310" x2="377.2" y2="1302" stroke="#333" stroke-width="1.2"/>
<line x1="403.43" y1="1310" x2="403.43" y2="1306" stroke="#333" stroke-width="1.2"/>
<line x1="429.65999999999997" y1="1310" x2="429.65999999999997" y2="1306" stroke="#333" stroke-width="1.2"/>
<line x1="455.89" y1="1310" x2="455.89" y2="1306" stroke="#333" stroke-width="1.2"/>
<line x1="482.12" y1="1310" x2="482.12" y2="1306" stroke="#333" stroke-width="1.2"/>
<line x1="508.35" y1="1310" x2="508.35" y2="1302" stroke="#333" stroke-width="1.2"/>
<line x1="534.58" y1="1310" x2="534.58" y2="1306" stroke="#333" stroke-width="1.2"/>
<line x1="560.81" y1="1310" x2="560.81" y2="1306" stroke="#333" stroke-width="1.2"/>
<line x1="587.04" y1="1310" x2="587.04" y2="1306" stroke="#333" stroke-width="1.2"/>
<line x1="613.27" y1="1310" x2="613.27" y2="1306" stroke="#333" stroke-width="1.2"/>
<line x1="639.5" y1="1310" x2="639.5" y2="1302" stroke="#333" stroke-width="1.2"/>
<text transform="translate(1,49.5) scale(0.9,1)" x="0" y="0" font-family='"Liberation Sans", sans-serif' font-size="29" font-weight="bold" fill="#000">(a)</text>
<text transform="translate(1,295) scale(0.9,1)" x="0" y="0" font-family='"Liberation Sans", sans-serif' font-size="29" font-weight="bold" fill="#000">(b)</text>
<text transform="translate(1,553.3) scale(0.9,1)" x="0" y="0" font-family='"Liberation Sans", sans-serif' font-size="29" font-weight="bold" fill="#000">(c)</text>
<text transform="translate(1,820) scale(0.9,1)" x="0" y="0" font-family='"Liberation Sans", sans-serif' font-size="29" font-weight="bold" fill="#000">(d)</text>
<text transform="translate(1,1100) scale(0.9,1)" x="0" y="0" font-family='"Liberation Sans", sans-serif' font-size="29" font-weight="bold" fill="#000">(e)</text>
<text x="97.5" y="264.6" font-family='"Liberation Serif", serif' font-size="25.5" font-weight="normal" text-anchor="end" fill="#222" >0</text>
<text x="97.5" y="195.2" font-family='"Liberation Serif", serif' font-size="25.5" font-weight="normal" text-anchor="end" fill="#222" >1</text>
<text x="97.5" y="125.79999999999998" font-family='"Liberation Serif", serif' font-size="25.5" font-weight="normal" text-anchor="end" fill="#222" >2</text>
<text x="97.5" y="56.399999999999984" font-family='"Liberation Serif", serif' font-size="25.5" font-weight="normal" text-anchor="end" fill="#222" >3</text>
<text x="659.5" y="264.6" font-family='"Liberation Serif", serif' font-size="25.5" font-weight="normal" text-anchor="start" fill="#222" >0</text>
<text x="659.5" y="215.92" font-family='"Liberation Serif", serif' font-size="25.5" font-weight="normal" text-anchor="start" fill="#222" >1</text>
<text x="659.5" y="167.23999999999998" font-family='"Liberation Serif", serif' font-size="25.5" font-weight="normal" text-anchor="start" fill="#222" >2</text>
<text x="659.5" y="118.56" font-family='"Liberation Serif", serif' font-size="25.5" font-weight="normal" text-anchor="start" fill="#222" >3</text>
<text x="659.5" y="69.88" font-family='"Liberation Serif", serif' font-size="25.5" font-weight="normal" text-anchor="start" fill="#222" >4</text>
<text x="659.5" y="21.199999999999996" font-family='"Liberation Serif", serif' font-size="25.5" font-weight="normal" text-anchor="start" fill="#222" >5</text>
<text transform="translate(57.2,134.3) rotate(-90) scale(1.0,1)" x="0" y="0" font-family='"Liberation Sans", sans-serif' font-size="17.7" font-weight="bold" text-anchor="middle" dominant-baseline="central" fill="#000">P/ GPa</text>
<text transform="translate(688,135) rotate(-90) scale(1.0,1)" x="0" y="0" font-family='"Liberation Sans", sans-serif' font-size="16" font-weight="bold" text-anchor="middle" dominant-baseline="central" fill="#000">h / μ m</text>
<text transform="translate(90.5,298.9) scale(0.87,1)" font-family='"Liberation Serif", serif' font-size="20" text-anchor="end" fill="#3a3a3a">0.1</text>
<text transform="translate(90.5,363.5) scale(0.87,1)" font-family='"Liberation Serif", serif' font-size="20" text-anchor="end" fill="#3a3a3a">0</text>
<text transform="translate(90.5,428.1) scale(0.87,1)" font-family='"Liberation Serif", serif' font-size="20" text-anchor="end" fill="#3a3a3a">-0.1</text>
<text transform="translate(90.5,492.70000000000005) scale(0.87,1)" font-family='"Liberation Serif", serif' font-size="20" text-anchor="end" fill="#3a3a3a">-0.2</text>
<text transform="translate(43.7,387.5) rotate(-90) scale(1.03,1)" x="0" y="0" font-family='"Liberation Sans", sans-serif' font-size="19" font-weight="bold" text-anchor="middle" dominant-baseline="central" fill="#000">Tangential traction / GPa</text>
<text x="90.5" y="542.5" font-family='"Liberation Serif", serif' font-size="23.5" font-weight="normal" text-anchor="end" fill="#222" >0</text>
<text x="90.5" y="599.975" font-family='"Liberation Serif", serif' font-size="23.5" font-weight="normal" text-anchor="end" fill="#222" >0.1</text>
<text x="90.5" y="657.45" font-family='"Liberation Serif", serif' font-size="23.5" font-weight="normal" text-anchor="end" fill="#222" >0.2</text>
<text x="90.5" y="714.925" font-family='"Liberation Serif", serif' font-size="23.5" font-weight="normal" text-anchor="end" fill="#222" >0.3</text>
<text x="90.5" y="772.4" font-family='"Liberation Serif", serif' font-size="23.5" font-weight="normal" text-anchor="end" fill="#222" >0.4</text>
<text transform="translate(49.4,650.5) rotate(-90) scale(1.14,1)" x="0" y="0" font-family='"Liberation Sans", sans-serif' font-size="18" font-weight="bold" text-anchor="middle" dominant-baseline="central" fill="#000">z / a</text>
<text x="90" y="816.8" font-family='"Liberation Sans", sans-serif' font-size="20.3" font-weight="normal" text-anchor="end" fill="#222" >0</text>
<text x="90" y="873.675" font-family='"Liberation Sans", sans-serif' font-size="20.3" font-weight="normal" text-anchor="end" fill="#222" >0.1</text>
<text x="90" y="930.55" font-family='"Liberation Sans", sans-serif' font-size="20.3" font-weight="normal" text-anchor="end" fill="#222" >0.2</text>
<text x="90" y="987.425" font-family='"Liberation Sans", sans-serif' font-size="20.3" font-weight="normal" text-anchor="end" fill="#222" >0.3</text>
<text x="90" y="1044.3" font-family='"Liberation Sans", sans-serif' font-size="20.3" font-weight="normal" text-anchor="end" fill="#222" >0.4</text>
<text transform="translate(49.4,924.7) rotate(-90) scale(1.0,1)" x="0" y="0" font-family='"Liberation Sans", sans-serif' font-size="17.5" font-weight="bold" text-anchor="middle" dominant-baseline="central" fill="#000">z/a</text>
<text x="88.5" y="1090.8" font-family='"Liberation Serif", serif' font-size="23.5" font-weight="normal" text-anchor="end" fill="#222" >0</text>
<text x="88.5" y="1148.0249999999999" font-family='"Liberation Serif", serif' font-size="23.5" font-weight="normal" text-anchor="end" fill="#222" >0.1</text>
<text x="88.5" y="1205.25" font-family='"Liberation Serif", serif' font-size="23.5" font-weight="normal" text-anchor="end" fill="#222" >0.2</text>
<text x="88.5" y="1262.475" font-family='"Liberation Serif", serif' font-size="23.5" font-weight="normal" text-anchor="end" fill="#222" >0.3</text>
<text x="88.5" y="1319.7" font-family='"Liberation Serif", serif' font-size="23.5" font-weight="normal" text-anchor="end" fill="#222" >0.4</text>
<text transform="translate(47.6,1197.7) rotate(-90) scale(1.14,1)" x="0" y="0" font-family='"Liberation Sans", sans-serif' font-size="18" font-weight="bold" text-anchor="middle" dominant-baseline="central" fill="#000">z / a</text>
<text x="113.39999999999998" y="1328.7" font-family='"Liberation Sans", sans-serif' font-size="19.5" font-weight="normal" text-anchor="middle" fill="#222" >-1</text>
<text x="245.04999999999998" y="1328.7" font-family='"Liberation Sans", sans-serif' font-size="19.5" font-weight="normal" text-anchor="middle" fill="#222" >-0.5</text>
<text x="377.2" y="1328.7" font-family='"Liberation Sans", sans-serif' font-size="19.5" font-weight="normal" text-anchor="middle" fill="#222" >0</text>
<text x="509.15000000000003" y="1328.7" font-family='"Liberation Sans", sans-serif' font-size="19.5" font-weight="normal" text-anchor="middle" fill="#222" >0.5</text>
<text x="640.7" y="1328.7" font-family='"Liberation Sans", sans-serif' font-size="19.5" font-weight="normal" text-anchor="middle" fill="#222" >1</text>
<rect x="0" y="1348" width="750" height="1" fill="#efefef" stroke="none" stroke-width="0"/>
<line x1="10.5" y1="61" x2="10.5" y2="251" stroke="#efefef" stroke-width="1"/>
<line x1="721" y1="0" x2="721" y2="255" stroke="#f3f3f3" stroke-width="1"/>
<text x="376.5" y="1346.5" font-family='"Liberation Sans", sans-serif' font-size="19.5" font-weight="bold" text-anchor="middle" fill="#000" >x/a</text>
<rect x="664.3" y="589" width="26.5" height="9.6" fill="#333" stroke="none" stroke-width="0"/>
<rect x="664.3" y="598.6" width="26.5" height="22.3" fill="#999" stroke="none" stroke-width="0"/>
<rect x="664.3" y="620.9" width="26.5" height="21.5" fill="#686868" stroke="none" stroke-width="0"/>
<rect x="664.3" y="642.4" width="26.5" height="21.5" fill="#9a9a9a" stroke="none" stroke-width="0"/>
<rect x="664.3" y="663.9" width="26.5" height="21.5" fill="#686868" stroke="none" stroke-width="0"/>
<rect x="664.3" y="685.4" width="26.5" height="20.8" fill="#c4c4c4" stroke="none" stroke-width="0"/>
<rect x="664.3" y="706.1999999999999" width="26.5" height="11" fill="#fdfdfd" stroke="none" stroke-width="0"/>
<line x1="664.3" y1="598.6" x2="690.8" y2="598.6" stroke="#505050" stroke-width="1.0"/>
<line x1="664.3" y1="620.9" x2="690.8" y2="620.9" stroke="#505050" stroke-width="1.0"/>
<line x1="664.3" y1="642.4" x2="690.8" y2="642.4" stroke="#505050" stroke-width="1.0"/>
<line x1="664.3" y1="663.9" x2="690.8" y2="663.9" stroke="#505050" stroke-width="1.0"/>
<line x1="664.3" y1="685.4" x2="690.8" y2="685.4" stroke="#505050" stroke-width="1.0"/>
<line x1="664.3" y1="706.1999999999999" x2="690.8" y2="706.1999999999999" stroke="#505050" stroke-width="1.0"/>
<rect x="664.3" y="589" width="26.5" height="128.19999999999993" fill="none" stroke="#707070" stroke-width="1.3"/>
<text x="744.5" y="609.0" font-family='"Liberation Sans", sans-serif' font-size="17.2" font-weight="bold" text-anchor="end" fill="#111" >0.30</text>
<text x="744.5" y="630.4" font-family='"Liberation Sans", sans-serif' font-size="17.2" font-weight="bold" text-anchor="end" fill="#111" >0.15</text>
<text x="744.5" y="651.8" font-family='"Liberation Sans", sans-serif' font-size="17.2" font-weight="bold" text-anchor="end" fill="#111" >0.00</text>
<text x="744.5" y="673.2" font-family='"Liberation Sans", sans-serif' font-size="17.2" font-weight="bold" text-anchor="end" fill="#111" >-0.15</text>
<text x="744.5" y="694.6" font-family='"Liberation Sans", sans-serif' font-size="17.2" font-weight="bold" text-anchor="end" fill="#111" >-0.30</text>
<text x="744.5" y="716.0" font-family='"Liberation Sans", sans-serif' font-size="17.2" font-weight="bold" text-anchor="end" fill="#111" >-0.45</text>
<text x="669" y="568.3" font-family='"Liberation Serif", serif' font-size="21" font-style="italic" fill="#111">τ<tspan font-size="14" dy="1.5">xz</tspan></text>
<line x1="698.9" y1="555" x2="694.6" y2="571" stroke="#111" stroke-width="1.7"/>
<text x="708.2" y="568.3" font-family='"Liberation Sans", sans-serif' font-size="18" fill="#111">GPa</text>
<rect x="668.7" y="862.5" width="27.3" height="10.2" fill="#fdfdfd" stroke="none" stroke-width="0"/>
<rect x="668.7" y="872.7" width="27.3" height="22.1" fill="#d6d6d6" stroke="none" stroke-width="0"/>
<rect x="668.7" y="894.8000000000001" width="27.3" height="20.7" fill="#666666" stroke="none" stroke-width="0"/>
<rect x="668.7" y="915.5000000000001" width="27.3" height="22" fill="#9a9a9a" stroke="none" stroke-width="0"/>
<rect x="668.7" y="937.5000000000001" width="27.3" height="21.4" fill="#666666" stroke="none" stroke-width="0"/>
<rect x="668.7" y="958.9000000000001" width="27.3" height="21.3" fill="#9a9a9a" stroke="none" stroke-width="0"/>
<rect x="668.7" y="980.2" width="27.3" height="10.8" fill="#3a3a3a" stroke="none" stroke-width="0"/>
<line x1="668.7" y1="872.7" x2="696.0" y2="872.7" stroke="#505050" stroke-width="1.0"/>
<line x1="668.7" y1="894.8000000000001" x2="696.0" y2="894.8000000000001" stroke="#505050" stroke-width="1.0"/>
<line x1="668.7" y1="915.5000000000001" x2="696.0" y2="915.5000000000001" stroke="#505050" stroke-width="1.0"/>
<line x1="668.7" y1="937.5000000000001" x2="696.0" y2="937.5000000000001" stroke="#505050" stroke-width="1.0"/>
<line x1="668.7" y1="958.9000000000001" x2="696.0" y2="958.9000000000001" stroke="#505050" stroke-width="1.0"/>
<line x1="668.7" y1="980.2" x2="696.0" y2="980.2" stroke="#505050" stroke-width="1.0"/>
<rect x="668.7" y="862.5" width="27.3" height="128.5" fill="none" stroke="#707070" stroke-width="1.3"/>
<text x="738.8" y="883.0" font-family='"Liberation Sans", sans-serif' font-size="17.2" font-weight="bold" text-anchor="end" fill="#111" >0.0</text>
<text x="738.8" y="904.3" font-family='"Liberation Sans", sans-serif' font-size="17.2" font-weight="bold" text-anchor="end" fill="#111" >-0.5</text>
<text x="738.8" y="925.6" font-family='"Liberation Sans", sans-serif' font-size="17.2" font-weight="bold" text-anchor="end" fill="#111" >-1.0</text>
<text x="738.8" y="946.9" font-family='"Liberation Sans", sans-serif' font-size="17.2" font-weight="bold" text-anchor="end" fill="#111" >-1.5</text>
<text x="738.8" y="968.2" font-family='"Liberation Sans", sans-serif' font-size="17.2" font-weight="bold" text-anchor="end" fill="#111" >-2.0</text>
<text x="738.8" y="989.5" font-family='"Liberation Sans", sans-serif' font-size="17.2" font-weight="bold" text-anchor="end" fill="#111" >-2.5</text>
<text x="668" y="842.3" font-family='"Liberation Serif", serif' font-size="21" font-style="italic" fill="#111">σ<tspan font-size="14" dy="1.5">xx</tspan></text>
<line x1="701.9" y1="828.2" x2="698.2" y2="842.6" stroke="#111" stroke-width="1.7"/>
<text x="712.5" y="842.3" font-family='"Liberation Sans", sans-serif' font-size="18" fill="#111">GPa</text>
<rect x="665.5" y="1135" width="26.8" height="11.3" fill="#fdfdfd" stroke="none" stroke-width="0"/>
<rect x="665.5" y="1146.3" width="26.8" height="21.2" fill="#c6c6c6" stroke="none" stroke-width="0"/>
<rect x="665.5" y="1167.5" width="26.8" height="21.8" fill="#666666" stroke="none" stroke-width="0"/>
<rect x="665.5" y="1189.3" width="26.8" height="21.1" fill="#9a9a9a" stroke="none" stroke-width="0"/>
<rect x="665.5" y="1210.3999999999999" width="26.8" height="21.9" fill="#666666" stroke="none" stroke-width="0"/>
<rect x="665.5" y="1232.3" width="26.8" height="21.1" fill="#9a9a9a" stroke="none" stroke-width="0"/>
<rect x="665.5" y="1253.3999999999999" width="26.8" height="10.6" fill="#3a3a3a" stroke="none" stroke-width="0"/>
<line x1="665.5" y1="1146.3" x2="692.3" y2="1146.3" stroke="#505050" stroke-width="1.0"/>
<line x1="665.5" y1="1167.5" x2="692.3" y2="1167.5" stroke="#505050" stroke-width="1.0"/>
<line x1="665.5" y1="1189.3" x2="692.3" y2="1189.3" stroke="#505050" stroke-width="1.0"/>
<line x1="665.5" y1="1210.3999999999999" x2="692.3" y2="1210.3999999999999" stroke="#505050" stroke-width="1.0"/>
<line x1="665.5" y1="1232.3" x2="692.3" y2="1232.3" stroke="#505050" stroke-width="1.0"/>
<line x1="665.5" y1="1253.3999999999999" x2="692.3" y2="1253.3999999999999" stroke="#505050" stroke-width="1.0"/>
<rect x="665.5" y="1135" width="26.8" height="128.99999999999977" fill="none" stroke="#707070" stroke-width="1.3"/>
<text x="745.8" y="1155.5" font-family='"Liberation Sans", sans-serif' font-size="17.2" font-weight="bold" text-anchor="end" fill="#111" >0.00</text>
<text x="745.8" y="1176.85" font-family='"Liberation Sans", sans-serif' font-size="17.2" font-weight="bold" text-anchor="end" fill="#111" >-0.40</text>
<text x="745.8" y="1198.2" font-family='"Liberation Sans", sans-serif' font-size="17.2" font-weight="bold" text-anchor="end" fill="#111" >-0.80</text>
<text x="745.8" y="1219.55" font-family='"Liberation Sans", sans-serif' font-size="17.2" font-weight="bold" text-anchor="end" fill="#111" >-1.20</text>
<text x="745.8" y="1240.9" font-family='"Liberation Sans", sans-serif' font-size="17.2" font-weight="bold" text-anchor="end" fill="#111" >-1.60</text>
<text x="745.8" y="1262.25" font-family='"Liberation Sans", sans-serif' font-size="17.2" font-weight="bold" text-anchor="end" fill="#111" >-2.00</text>
<text x="667.5" y="1113" font-family='"Liberation Serif", serif' font-size="21" font-style="italic" fill="#111">σ<tspan font-size="14" dy="1.5">zz</tspan></text>
<line x1="701.3" y1="1099.4" x2="697.3" y2="1113.2" stroke="#111" stroke-width="1.7"/>
<text x="711.7" y="1113" font-family='"Liberation Sans", sans-serif' font-size="18" fill="#111">GPa</text>
</svg>
</body></html>
